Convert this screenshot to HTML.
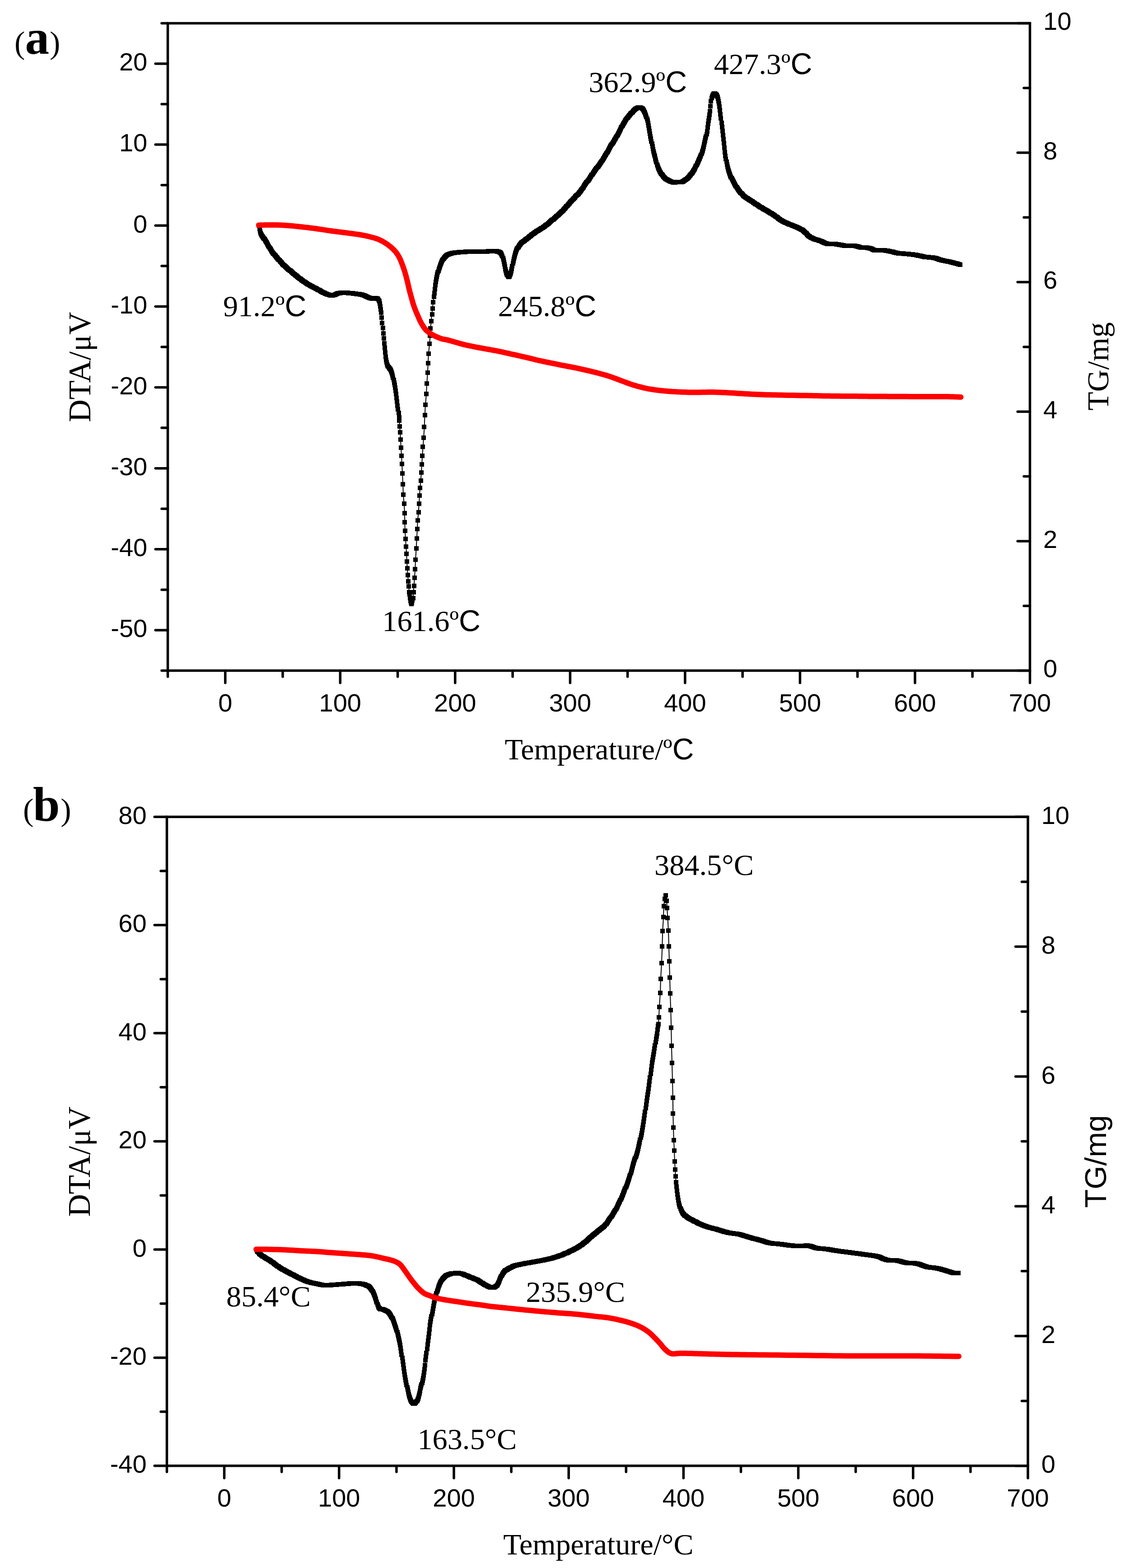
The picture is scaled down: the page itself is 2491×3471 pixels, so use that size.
<!DOCTYPE html>
<html><head><meta charset="utf-8"><title>DTA-TG</title><style>html,body{margin:0;padding:0;background:#fff}svg{display:block}</style></head><body>
<svg xmlns="http://www.w3.org/2000/svg" width="2491" height="3471" viewBox="0 0 2491 3471">
<rect width="2491" height="3471" fill="#fff"/>
<path d="M371.5 1484.5H358M371.5 1394.9H344.2M371.5 1305.4H358M371.5 1215.8H344.2M371.5 1126.2H358M371.5 1036.7H344.2M371.5 947.1H358M371.5 857.5H344.2M371.5 768H358M371.5 678.4H344.2M371.5 588.8H358M371.5 499.2H344.2M371.5 409.7H358M371.5 320.1H344.2M371.5 230.5H358M371.5 141H344.2M371.5 51.4H358M371.5 1484.5V1498M498.8 1484.5V1511.8M626 1484.5V1498M753.3 1484.5V1511.8M880.6 1484.5V1498M1007.8 1484.5V1511.8M1135.1 1484.5V1498M1262.4 1484.5V1511.8M1389.6 1484.5V1498M1516.9 1484.5V1511.8M1644.2 1484.5V1498M1771.4 1484.5V1511.8M1898.7 1484.5V1498M2026 1484.5V1511.8M2153.2 1484.5V1498M2280.5 1484.5V1511.8M2280.5 1484.5H2253.2M2280.5 1341.2H2267M2280.5 1197.9H2253.2M2280.5 1054.6H2267M2280.5 911.3H2253.2M2280.5 768H2267M2280.5 624.6H2253.2M2280.5 481.3H2267M2280.5 338H2253.2M2280.5 194.7H2267M2280.5 51.4H2253.2" stroke="#000" stroke-width="5.5" stroke-linecap="round" fill="none"/>
<path d="M371.5 51.4H2280.5V1484.5H371.5Z" stroke="#000" stroke-width="5.5" fill="none" stroke-linejoin="miter"/>
<text x="326.2" y="1410.2" font-family="'Liberation Sans', Arial, sans-serif" font-size="56" text-anchor="end">-50</text>
<text x="326.2" y="1231.1" font-family="'Liberation Sans', Arial, sans-serif" font-size="56" text-anchor="end">-40</text>
<text x="326.2" y="1052" font-family="'Liberation Sans', Arial, sans-serif" font-size="56" text-anchor="end">-30</text>
<text x="326.2" y="872.8" font-family="'Liberation Sans', Arial, sans-serif" font-size="56" text-anchor="end">-20</text>
<text x="326.2" y="693.7" font-family="'Liberation Sans', Arial, sans-serif" font-size="56" text-anchor="end">-10</text>
<text x="326.2" y="514.5" font-family="'Liberation Sans', Arial, sans-serif" font-size="56" text-anchor="end">0</text>
<text x="326.2" y="335.4" font-family="'Liberation Sans', Arial, sans-serif" font-size="56" text-anchor="end">10</text>
<text x="326.2" y="156.3" font-family="'Liberation Sans', Arial, sans-serif" font-size="56" text-anchor="end">20</text>
<text x="498.8" y="1574.7" font-family="'Liberation Sans', Arial, sans-serif" font-size="56" text-anchor="middle">0</text>
<text x="753.3" y="1574.7" font-family="'Liberation Sans', Arial, sans-serif" font-size="56" text-anchor="middle">100</text>
<text x="1007.8" y="1574.7" font-family="'Liberation Sans', Arial, sans-serif" font-size="56" text-anchor="middle">200</text>
<text x="1262.4" y="1574.7" font-family="'Liberation Sans', Arial, sans-serif" font-size="56" text-anchor="middle">300</text>
<text x="1516.9" y="1574.7" font-family="'Liberation Sans', Arial, sans-serif" font-size="56" text-anchor="middle">400</text>
<text x="1771.4" y="1574.7" font-family="'Liberation Sans', Arial, sans-serif" font-size="56" text-anchor="middle">500</text>
<text x="2026" y="1574.7" font-family="'Liberation Sans', Arial, sans-serif" font-size="56" text-anchor="middle">600</text>
<text x="2280.5" y="1574.7" font-family="'Liberation Sans', Arial, sans-serif" font-size="56" text-anchor="middle">700</text>
<text x="2310" y="1499.3" font-family="'Liberation Sans', Arial, sans-serif" font-size="56">0</text>
<text x="2310" y="1212.7" font-family="'Liberation Sans', Arial, sans-serif" font-size="56">2</text>
<text x="2310" y="926.1" font-family="'Liberation Sans', Arial, sans-serif" font-size="56">4</text>
<text x="2310" y="639.4" font-family="'Liberation Sans', Arial, sans-serif" font-size="56">6</text>
<text x="2310" y="352.8" font-family="'Liberation Sans', Arial, sans-serif" font-size="56">8</text>
<text x="2310" y="66.2" font-family="'Liberation Sans', Arial, sans-serif" font-size="56">10</text>
<path d="M573.5 499.5L573.7 501.5L573.9 503.4L574.2 505.4L574.6 507.3L574.9 509.3L575.4 511.3L575.9 513.3L576.5 515.2L577.3 517.1L578.2 518.8L579.2 520.4L580.2 521.9L581.3 523.4L582.5 525L583.6 526.6L584.8 528.3L585.9 530L587 531.6L588.1 533.3L589.1 535L590.2 536.7L591.2 538.4L592.2 540.2L593.2 541.9L594.3 543.6L595.3 545.4L596.3 547.1L597.3 548.9L598.3 550.6L599.3 552.3L600.4 554.1L601.5 555.7L602.6 557.4L603.8 559L605 560.6L606.2 562.1L607.5 563.7L608.8 565.2L610.1 566.7L611.4 568.2L612.7 569.7L614 571.2L615.3 572.7L616.7 574.2L618 575.7L619.3 577.2L620.7 578.7L622 580.2L623.4 581.6L624.7 583.1L626.1 584.5L627.5 586L629 587.4L630.4 588.8L631.9 590.1L633.3 591.5L634.8 592.8L636.3 594.1L637.8 595.4L639.4 596.7L640.9 597.9L642.4 599.2L644 600.5L645.5 601.8L647 603L648.6 604.3L650.1 605.6L651.7 606.9L653.2 608.2L654.8 609.4L656.3 610.7L657.9 612L659.4 613.2L661 614.5L662.6 615.7L664.2 616.9L665.8 618.1L667.4 619.3L669 620.4L670.6 621.6L672.3 622.7L673.9 623.9L675.6 625L677.3 626.1L678.9 627.2L680.6 628.3L682.3 629.3L684 630.4L685.8 631.4L687.5 632.4L689.2 633.3L691 634.3L692.8 635.2L694.5 636.1L696.3 637L698.1 637.9L699.8 638.8L701.6 639.7L703.4 640.7L705.1 641.6L706.9 642.6L708.6 643.6L710.4 644.6L712.1 645.6L713.9 646.6L715.7 647.5L717.5 648.5L719.3 649.3L721.1 650.1L723 650.8L724.8 651.5L726.7 652.2L728.6 652.8L730.6 653.3L732.5 653.7L734.4 653.9L736.3 653.9L738.3 653.5L740.2 652.8L742.1 652L743.9 651.2L745.8 650.3L747.7 649.6L749.6 649L751.6 648.7L753.5 648.5L755.5 648.4L757.5 648.4L759.5 648.4L761.5 648.4L763.5 648.4L765.5 648.4L767.5 648.4L769.5 648.4L771.5 648.5L773.4 648.6L775.4 648.8L777.4 648.9L779.4 649.2L781.4 649.4L783.4 649.7L785.4 650L787.4 650.3L789.3 650.6L791.3 650.9L793.3 651.1L795.3 651.4L797.2 651.7L799.2 652L801.1 652.4L803 652.9L804.9 653.5L806.8 654.2L808.6 655.1L810.5 656L812.3 656.9L814.2 657.8L816 658.5L817.9 659.2L819.8 659.9L821.7 660.3L823.7 660.6L825.6 660.7L827.6 660.6L829.5 660.5L831.3 660.5L833.1 660.5L834.7 660.6L836.2 660.9L837.4 662.4L838.4 664.3L839.3 666.2L839.9 668.2L840.4 670.1L840.9 672.1L841.3 674.1L841.6 676.1L841.9 678.1L842.3 680L842.6 682L842.9 684L843.2 685.9L843.5 687.9L843.7 689.9L844 691.9L844.2 693.9L844.4 695.9L844.6 697.8L844.8 699.8L845 701.8L845.2 703.8L845.3 705.8L845.5 707.8L845.7 709.8L845.8 711.8L846.1 713.8L846.3 715.8L846.5 717.8L846.8 719.7L847.1 721.7L847.4 723.7L847.6 725.7L847.9 727.6L848.1 729.6L848.3 731.6L848.5 733.6L848.7 735.6L848.8 737.6L849 739.6L849.1 741.6L849.2 743.6L849.3 745.6L849.4 747.6L849.5 749.6L849.7 751.6L849.9 753.6L850.1 755.5L850.3 757.5L850.6 759.5L850.8 761.5L851 763.5L851.3 765.5L851.5 767.5L851.7 769.4L851.9 771.4L852.1 773.4L852.3 775.4L852.5 777.4L852.7 779.4L853 781.4L853.2 783.4L853.4 785.4L853.7 787.3L853.9 789.3L854.2 791.3L854.5 793.3L854.8 795.3L855.1 797.2L855.5 799.2L855.9 801.2L856.4 803.1L856.9 805.1L857.6 807L858.3 808.9L859.2 810.8L860.1 812.5L861.2 814L862.2 815.4L863.4 816.8L864.4 818.3L865.4 819.9L866.3 821.7L867.1 823.6L867.8 825.5L868.4 827.4L869 829.4L869.4 831.3L869.9 833.3L870.3 835.3L870.7 837.2L871.1 839.2L871.5 841.2L871.9 843.1L872.3 845.1L872.7 847L873.1 849L873.5 850.9L873.9 852.9L874.3 854.9L874.6 856.8L875 858.8L875.3 860.8L875.7 862.7L876 864.7L876.3 866.7L876.6 868.7L876.8 870.7L877.1 872.6L877.4 874.6L877.6 876.6L877.9 878.6L878.1 880.6L878.4 882.6L878.6 884.5L878.9 886.5L879.1 888.5L879.4 890.5L879.7 892.5L879.9 894.5L880.2 896.4L880.5 898.4L880.7 900.4L881 902.4L881.3 904.4L881.5 906.4L881.8 908.3L882.1 910.3L882.4 912.3L882.6 914.3L882.9 916.3L883.1 918.2L883.3 920.2L883.5 922.2L883.6 924.2L883.8 926.2L883.9 928.2L884.1 930.2L884.2 932.2L884.3 934.2L884.4 936.2L884.6 938.2L884.7 940.2L884.8 942.2L885 944.2L885.1 946.2L885.3 948.2L885.4 950.2L885.6 952.1L885.7 954.1L885.9 956.1L886 958.1L886.2 960.1L886.3 962.1L886.4 964.1L886.5 966.1L886.6 968.1L886.7 970.1L886.9 972.1L887 974.1L887.1 976.1L887.2 978.1L887.3 980.1L887.5 982.1L887.6 984.1L887.7 986.1L887.8 988.1L887.9 990.1L888.1 992.1L888.2 994.1L888.3 996.1L888.4 998.1L888.5 1000.1L888.6 1002.1L888.7 1004.1L888.9 1006L889 1008L889.1 1010L889.2 1012L889.3 1014L889.4 1016L889.5 1018L889.6 1020L889.7 1022L889.8 1024L889.9 1026L890 1028L890.1 1030L890.2 1032L890.3 1034L890.4 1036L890.5 1038L890.6 1040L890.7 1042L890.8 1044L890.9 1046L891 1048L891.1 1050L891.2 1052L891.3 1054L891.4 1056L891.5 1058L891.6 1060L891.7 1062L891.8 1064L891.9 1066L892 1068L892.1 1070L892.2 1072L892.2 1074L892.3 1076L892.4 1078L892.4 1080L892.5 1082L892.5 1084L892.6 1086L892.7 1088L892.7 1090L892.8 1092L892.9 1094L893.1 1096L893.2 1097.9L893.4 1099.9L893.6 1101.9L893.7 1103.9L893.9 1105.9L894.1 1107.9L894.3 1109.9L894.5 1111.9L894.6 1113.9L894.8 1115.9L894.9 1117.9L895.1 1119.9L895.2 1121.9L895.3 1123.8L895.4 1125.8L895.5 1127.8L895.6 1129.8L895.6 1131.8L895.7 1133.8L895.8 1135.8L895.8 1137.8L895.9 1139.8L896 1141.8L896 1143.8L896.1 1145.8L896.1 1147.8L896.2 1149.8L896.2 1151.8L896.3 1153.8L896.3 1155.8L896.3 1157.8L896.4 1159.8L896.4 1161.8L896.5 1163.8L896.5 1165.8L896.6 1167.8L896.6 1169.8L896.7 1171.8L896.8 1173.8L896.9 1175.8L897 1177.8L897.1 1179.8L897.2 1181.8L897.4 1183.8L897.5 1185.8L897.6 1187.8L897.8 1189.8L897.9 1191.8L898 1193.8L898.1 1195.8L898.3 1197.8L898.4 1199.8L898.5 1201.8L898.6 1203.8L898.8 1205.8L898.9 1207.8L899 1209.8L899.2 1211.8L899.3 1213.7L899.4 1215.7L899.6 1217.7L899.7 1219.7L899.9 1221.7L900 1223.7L900.1 1225.7L900.2 1227.7L900.3 1229.7L900.4 1231.7L900.5 1233.7L900.6 1235.7L900.7 1237.7L900.8 1239.7L900.9 1241.7L901 1243.7L901.1 1245.7L901.2 1247.7L901.3 1249.7L901.5 1251.7L901.6 1253.7L901.7 1255.7L901.9 1257.7L902 1259.7L902.1 1261.7L902.2 1263.7L902.4 1265.6L902.5 1267.6L902.6 1269.6L902.8 1271.6L902.9 1273.6L903.1 1275.6L903.2 1277.6L903.4 1279.6L903.6 1281.6L903.8 1283.6L904 1285.6L904.1 1287.6L904.3 1289.6L904.5 1291.6L904.6 1293.6L904.8 1295.5L904.9 1297.5L905.1 1299.5L905.2 1301.5L905.4 1303.5L905.6 1305.5L905.8 1307.5L905.9 1309.5L906.2 1311.5L906.4 1313.5L906.6 1315.5L906.9 1317.4L907.2 1319.4L907.5 1321.4L907.8 1323.4L908.1 1325.3L908.5 1327.3L908.9 1329.3L909.3 1331.3L909.8 1333.2L910.3 1335.2L910.9 1337.1L911.4 1336.4L912 1334.5L912.5 1332.6L913 1330.6L913.4 1328.7L913.8 1326.7L914.1 1324.7L914.4 1322.7L914.6 1320.7L914.8 1318.8L915 1316.8L915.2 1314.8L915.3 1312.8L915.5 1310.8L915.6 1308.8L915.8 1306.8L916 1304.8L916.1 1302.8L916.3 1300.8L916.4 1298.8L916.6 1296.8L916.8 1294.8L916.9 1292.8L917 1290.8L917.2 1288.8L917.3 1286.8L917.5 1284.9L917.6 1282.9L917.8 1280.9L917.9 1278.9L918 1276.9L918.2 1274.9L918.3 1272.9L918.4 1270.9L918.5 1268.9L918.7 1266.9L918.8 1264.9L918.9 1262.9L919 1260.9L919.1 1258.9L919.3 1256.9L919.4 1254.9L919.5 1252.9L919.6 1250.9L919.7 1248.9L919.8 1246.9L919.9 1244.9L920 1242.9L920.1 1240.9L920.2 1238.9L920.3 1236.9L920.4 1234.9L920.5 1232.9L920.6 1230.9L920.7 1228.9L920.9 1227L921 1225L921.1 1223L921.2 1221L921.3 1219L921.4 1217L921.5 1215L921.6 1213L921.7 1211L921.9 1209L922 1207L922.1 1205L922.2 1203L922.3 1201L922.4 1199L922.5 1197L922.6 1195L922.7 1193L922.8 1191L923 1189L923.1 1187L923.2 1185L923.3 1183L923.4 1181L923.5 1179L923.6 1177L923.7 1175L923.8 1173L923.9 1171L924 1169L924.1 1167L924.2 1165L924.3 1163L924.4 1161L924.5 1159L924.6 1157L924.7 1155.1L924.9 1153.1L925 1151.1L925.2 1149.1L925.4 1147.1L925.5 1145.1L925.7 1143.1L925.9 1141.1L926.1 1139.1L926.3 1137.1L926.5 1135.1L926.6 1133.1L926.8 1131.1L926.9 1129.2L927 1127.2L927.2 1125.2L927.3 1123.2L927.4 1121.2L927.6 1119.2L927.7 1117.2L927.8 1115.2L927.9 1113.2L928.1 1111.2L928.2 1109.2L928.3 1107.2L928.5 1105.2L928.6 1103.2L928.7 1101.2L928.8 1099.2L929 1097.2L929.1 1095.2L929.2 1093.2L929.3 1091.2L929.4 1089.2L929.6 1087.2L929.7 1085.2L929.8 1083.2L930 1081.2L930.1 1079.3L930.3 1077.3L930.5 1075.3L930.7 1073.3L930.9 1071.3L931.1 1069.3L931.2 1067.3L931.4 1065.3L931.6 1063.3L931.8 1061.3L931.9 1059.3L932.1 1057.3L932.2 1055.4L932.4 1053.4L932.5 1051.4L932.7 1049.4L932.8 1047.4L932.9 1045.4L933.1 1043.4L933.2 1041.4L933.3 1039.4L933.4 1037.4L933.5 1035.4L933.7 1033.4L933.8 1031.4L933.9 1029.4L934 1027.4L934.2 1025.4L934.3 1023.4L934.4 1021.4L934.5 1019.4L934.7 1017.4L934.8 1015.4L934.9 1013.4L935.1 1011.4L935.2 1009.4L935.3 1007.5L935.5 1005.5L935.6 1003.5L935.7 1001.5L935.9 999.5L936 997.5L936.1 995.5L936.3 993.5L936.4 991.5L936.6 989.5L936.7 987.5L936.9 985.5L937 983.5L937.2 981.5L937.3 979.5L937.5 977.5L937.6 975.5L937.8 973.5L937.9 971.5L938.1 969.6L938.2 967.6L938.3 965.6L938.5 963.6L938.6 961.6L938.7 959.6L938.8 957.6L938.9 955.6L939.1 953.6L939.2 951.6L939.3 949.6L939.4 947.6L939.5 945.6L939.6 943.6L939.7 941.6L939.8 939.6L939.9 937.6L940 935.6L940 933.6L940.1 931.6L940.2 929.6L940.3 927.6L940.4 925.6L940.5 923.6L940.6 921.6L940.7 919.6L940.8 917.6L940.9 915.6L941 913.6L941.1 911.6L941.2 909.6L941.3 907.6L941.4 905.6L941.5 903.6L941.7 901.6L941.8 899.7L941.9 897.7L942.1 895.7L942.2 893.7L942.4 891.7L942.5 889.7L942.7 887.7L942.9 885.7L943 883.7L943.2 881.7L943.4 879.7L943.5 877.7L943.7 875.7L943.8 873.7L944 871.7L944.1 869.7L944.2 867.7L944.3 865.8L944.4 863.8L944.5 861.8L944.6 859.8L944.7 857.8L944.8 855.8L944.9 853.8L945 851.8L945.1 849.8L945.2 847.8L945.3 845.8L945.5 843.8L945.6 841.8L945.8 839.8L945.9 837.8L946.1 835.8L946.2 833.8L946.4 831.8L946.5 829.8L946.7 827.8L946.8 825.8L946.9 823.8L947 821.8L947.1 819.8L947.2 817.8L947.3 815.8L947.4 813.8L947.5 811.9L947.6 809.9L947.7 807.9L947.7 805.9L947.8 803.9L947.9 801.9L948 799.9L948.1 797.9L948.2 795.9L948.3 793.9L948.4 791.9L948.5 789.9L948.6 787.9L948.7 785.9L948.9 783.9L949 781.9L949.2 779.9L949.4 777.9L949.6 775.9L949.8 773.9L950 771.9L950.2 770L950.4 768L950.6 766L950.8 764L951 762L951.2 760L951.3 758L951.5 756L951.7 754L951.8 752L952 750L952.1 748L952.2 746L952.3 744L952.5 742.1L952.6 740.1L952.7 738.1L952.8 736.1L952.9 734.1L953 732.1L953.1 730.1L953.2 728.1L953.4 726.1L953.5 724.1L953.7 722.1L953.9 720.1L954.1 718.1L954.3 716.1L954.5 714.1L954.7 712.1L954.8 710.2L955 708.2L955.2 706.2L955.3 704.2L955.5 702.2L955.6 700.2L955.8 698.2L956 696.2L956.2 694.2L956.5 692.2L956.7 690.2L957 688.3L957.2 686.3L957.5 684.3L957.7 682.3L958 680.3L958.2 678.3L958.4 676.4L958.6 674.4L958.8 672.4L959 670.4L959.2 668.4L959.4 666.4L959.6 664.4L959.9 662.4L960.2 660.5L960.4 658.5L960.7 656.5L961 654.5L961.3 652.5L961.5 650.6L961.8 648.6L962.1 646.6L962.3 644.6L962.5 642.6L962.8 640.6L963 638.6L963.3 636.7L963.5 634.7L963.8 632.7L964.1 630.7L964.4 628.7L964.7 626.7L965 624.8L965.3 622.8L965.7 620.8L966 618.9L966.4 616.9L966.8 614.9L967.2 613L967.6 611L968.1 609.1L968.5 607.1L969 605.2L969.5 603.2L970 601.3L970.6 599.4L971.2 597.5L971.8 595.6L972.4 593.7L973.1 591.8L973.7 589.9L974.5 588L975.2 586.2L975.9 584.3L976.7 582.5L977.5 580.7L978.4 578.8L979.3 577L980.3 575.2L981.3 573.5L982.5 571.8L983.7 570.2L985 568.7L986.5 567.3L988 566.1L989.6 565L991.2 563.9L993 563L994.8 562.3L996.6 561.6L998.5 561.1L1000.4 560.6L1002.4 560.2L1004.3 559.9L1006.3 559.5L1008.2 559.3L1010.2 559L1012.2 558.8L1014.2 558.6L1016.2 558.4L1018.2 558.2L1020.2 558.1L1022.2 557.9L1024.2 557.8L1026.2 557.7L1028.2 557.6L1030.1 557.5L1032.1 557.5L1034.1 557.4L1036.1 557.4L1038.1 557.4L1040.1 557.4L1042.1 557.4L1044.1 557.4L1046.1 557.4L1048.1 557.4L1050.1 557.4L1052.1 557.4L1054.1 557.4L1056.1 557.4L1058.1 557.4L1060.1 557.4L1062.1 557.4L1064.1 557.4L1066.1 557.4L1068.1 557.4L1070.1 557.3L1072.1 557.2L1074.1 557.1L1076.1 557L1078.1 556.8L1080.1 556.5L1082.1 556.3L1084.1 556.1L1086.1 555.8L1088.1 555.7L1090.1 555.6L1092.1 555.6L1094 555.7L1096 555.9L1098 556.1L1099.9 556.4L1101.8 556.8L1103.6 557.3L1105.3 557.8L1106.9 558.5L1108.3 559.6L1109.5 561.2L1110.6 563L1111.5 564.9L1112.3 566.8L1113 568.7L1113.6 570.7L1114.1 572.6L1114.6 574.6L1115 576.5L1115.5 578.4L1115.9 580.4L1116.3 582.4L1116.7 584.3L1117.1 586.3L1117.5 588.3L1117.9 590.2L1118.3 592.2L1118.7 594.2L1119.2 596.1L1119.7 598L1120.2 600L1120.7 601.9L1121.3 603.9L1122 605.8L1122.8 607.6L1123.7 609.5L1124.6 611.2L1125.6 612.9L1126.6 613.4L1127.6 611.9L1128.6 610.2L1129.5 608.3L1130.2 606.5L1130.9 604.6L1131.5 602.6L1132 600.7L1132.5 598.7L1132.9 596.7L1133.4 594.8L1133.7 592.8L1134.1 590.9L1134.5 588.9L1134.8 586.9L1135.2 584.9L1135.6 583L1136 581L1136.4 579L1136.8 577.1L1137.3 575.1L1137.7 573.2L1138.2 571.3L1138.7 569.4L1139.2 567.4L1139.8 565.5L1140.3 563.6L1140.9 561.6L1141.5 559.7L1142.1 557.7L1142.8 555.9L1143.6 554L1144.4 552.2L1145.3 550.5L1146.3 548.8L1147.3 547.1L1148.4 545.4L1149.6 543.8L1150.8 542.2L1152.1 540.6L1153.4 539.1L1154.8 537.7L1156.3 536.3L1157.8 535.1L1159.3 533.9L1160.9 532.7L1162.5 531.6L1164.1 530.5L1165.7 529.3L1167.2 528.1L1168.8 526.8L1170.4 525.6L1171.9 524.3L1173.5 523L1175.1 521.7L1176.7 520.4L1178.2 519.2L1179.8 518L1181.5 516.9L1183.1 515.7L1184.7 514.6L1186.4 513.5L1188.1 512.4L1189.7 511.3L1191.4 510.2L1193.1 509.1L1194.8 508.1L1196.5 507.1L1198.2 506.1L1199.9 505L1201.5 504L1203.2 502.9L1204.8 501.7L1206.5 500.5L1208.1 499.3L1209.7 498.1L1211.2 496.9L1212.8 495.6L1214.3 494.3L1215.9 493.1L1217.4 491.8L1218.9 490.5L1220.5 489.2L1222 487.9L1223.5 486.5L1225 485.2L1226.5 483.9L1228 482.6L1229.5 481.3L1231 479.9L1232.5 478.6L1234 477.3L1235.5 476L1237 474.7L1238.5 473.3L1240 472L1241.4 470.6L1242.9 469.2L1244.3 467.9L1245.7 466.5L1247.1 465L1248.5 463.6L1249.9 462.2L1251.2 460.7L1252.6 459.2L1253.9 457.7L1255.2 456.1L1256.5 454.6L1257.9 453.1L1259.2 451.6L1260.5 450.1L1261.8 448.6L1263.2 447.1L1264.5 445.6L1265.9 444.2L1267.2 442.7L1268.6 441.2L1270 439.8L1271.3 438.3L1272.7 436.9L1274.1 435.4L1275.5 434L1276.9 432.6L1278.3 431.2L1279.7 429.8L1281 428.4L1282.4 426.9L1283.7 425.4L1284.9 423.9L1286.2 422.3L1287.3 420.7L1288.5 419L1289.6 417.3L1290.7 415.6L1291.7 413.9L1292.8 412.2L1293.9 410.4L1295 408.7L1296.1 407.1L1297.3 405.5L1298.5 403.9L1299.7 402.4L1300.9 400.9L1302.2 399.4L1303.4 397.8L1304.5 396.2L1305.7 394.5L1306.8 392.8L1307.9 391.1L1309 389.4L1310.1 387.7L1311.2 386.1L1312.3 384.4L1313.4 382.8L1314.6 381.1L1315.7 379.5L1316.9 377.8L1318 376.2L1319.2 374.6L1320.4 373L1321.7 371.4L1322.9 369.9L1324.1 368.3L1325.4 366.8L1326.6 365.2L1327.8 363.7L1328.9 362.1L1330.1 360.4L1331.2 358.8L1332.3 357L1333.4 355.3L1334.4 353.6L1335.5 351.9L1336.5 350.2L1337.6 348.5L1338.7 346.8L1339.7 345.1L1340.8 343.5L1341.9 341.8L1342.9 340.1L1343.9 338.4L1344.9 336.7L1345.9 334.9L1346.8 333.1L1347.8 331.3L1348.7 329.5L1349.6 327.7L1350.6 325.9L1351.6 324.2L1352.6 322.5L1353.7 320.8L1354.7 319.2L1355.8 317.6L1356.9 315.9L1358 314.3L1359.1 312.6L1360.2 310.9L1361.2 309.2L1362.3 307.5L1363.3 305.7L1364.3 304L1365.3 302.3L1366.3 300.5L1367.2 298.8L1368.2 297L1369.1 295.3L1370.1 293.5L1371 291.7L1371.9 289.9L1372.9 288.2L1373.8 286.4L1374.7 284.6L1375.7 282.8L1376.6 281.1L1377.6 279.3L1378.5 277.6L1379.5 275.8L1380.5 274.1L1381.5 272.4L1382.5 270.6L1383.6 268.9L1384.6 267.2L1385.7 265.5L1386.8 263.8L1388 262.2L1389.2 260.6L1390.4 259L1391.7 257.5L1393 256L1394.3 254.5L1395.6 253.1L1397 251.6L1398.3 250.1L1399.7 248.6L1401.1 247.1L1402.5 245.6L1404 244.2L1405.5 242.9L1407 241.6L1408.7 240.4L1410.4 239.3L1412.1 238.5L1413.9 237.8L1415.6 237.6L1417.4 237.9L1419.1 238.4L1420.7 239.3L1422.2 240.4L1423.5 241.9L1424.7 243.6L1425.8 245.4L1426.7 247.3L1427.6 249.1L1428.4 251L1429.2 252.8L1429.9 254.7L1430.5 256.6L1431.2 258.5L1431.8 260.4L1432.3 262.3L1432.9 264.2L1433.4 266.2L1433.9 268.1L1434.3 270.1L1434.7 272L1435.1 274L1435.5 276L1435.9 277.9L1436.3 279.9L1436.6 281.9L1437 283.8L1437.3 285.8L1437.7 287.8L1438.1 289.7L1438.4 291.7L1438.8 293.7L1439.1 295.6L1439.5 297.6L1439.9 299.6L1440.2 301.5L1440.6 303.5L1441 305.5L1441.4 307.4L1441.8 309.4L1442.2 311.3L1442.5 313.3L1442.9 315.3L1443.3 317.2L1443.7 319.2L1444.1 321.2L1444.4 323.1L1444.8 325.1L1445.2 327.1L1445.6 329L1446 331L1446.5 332.9L1447 334.9L1447.4 336.8L1448 338.7L1448.5 340.7L1449.1 342.6L1449.6 344.5L1450.1 346.4L1450.7 348.3L1451.2 350.2L1451.7 352.2L1452.1 354.1L1452.6 356.1L1453.1 358L1453.6 360L1454.1 361.9L1454.7 363.9L1455.3 365.8L1455.9 367.7L1456.6 369.5L1457.3 371.4L1458.1 373.2L1458.9 375.1L1459.8 376.9L1460.7 378.7L1461.7 380.4L1462.7 382.1L1463.7 383.8L1464.9 385.5L1466 387.1L1467.3 388.7L1468.6 390.2L1469.9 391.7L1471.3 393.2L1472.8 394.5L1474.4 395.7L1476 396.9L1477.6 397.9L1479.3 398.9L1481.1 399.9L1482.8 400.8L1484.7 401.7L1486.5 402.4L1488.4 403.1L1490.3 403.5L1492.3 403.7L1494.2 403.6L1496.2 403.4L1498.2 403.3L1500.2 403.2L1502.1 403L1504.1 402.8L1506 402.8L1508 402.8L1509.9 402.5L1511.7 401.7L1513.5 400.8L1515.2 399.8L1516.9 398.6L1518.5 397.5L1520.1 396.2L1521.6 395L1523.1 393.6L1524.5 392.2L1525.9 390.8L1527.3 389.3L1528.6 387.7L1529.8 386.2L1531.1 384.6L1532.2 383L1533.4 381.3L1534.5 379.7L1535.6 378L1536.6 376.3L1537.7 374.6L1538.6 372.9L1539.6 371.1L1540.5 369.3L1541.3 367.5L1542.2 365.6L1543 363.8L1543.8 361.9L1544.7 360.1L1545.5 358.3L1546.3 356.5L1547.2 354.7L1548 352.9L1548.9 351.1L1549.7 349.3L1550.5 347.5L1551.3 345.7L1552.1 343.8L1552.8 342L1553.5 340.1L1554.1 338.2L1554.7 336.3L1555.3 334.3L1555.9 332.4L1556.4 330.5L1556.9 328.6L1557.4 326.6L1557.9 324.7L1558.4 322.7L1558.9 320.8L1559.3 318.8L1559.8 316.9L1560.3 314.9L1560.7 313L1561.2 311L1561.7 309.1L1562.2 307.2L1562.7 305.2L1563.1 303.3L1563.6 301.4L1564.1 299.4L1564.5 297.5L1564.9 295.5L1565.2 293.6L1565.5 291.6L1565.8 289.6L1566.1 287.6L1566.3 285.6L1566.6 283.6L1566.8 281.6L1567.1 279.7L1567.4 277.7L1567.6 275.7L1567.9 273.7L1568.2 271.7L1568.6 269.8L1568.9 267.8L1569.2 265.8L1569.5 263.9L1569.9 261.9L1570.2 259.9L1570.5 257.9L1570.8 256L1571.1 254L1571.4 252L1571.7 250L1572 248.1L1572.3 246.1L1572.5 244.1L1572.7 242.1L1572.9 240.1L1573.1 238.1L1573.2 236.1L1573.4 234.1L1573.6 232.1L1573.8 230.1L1574 228.1L1574.2 226.2L1574.4 224.2L1574.7 222.2L1575 220.2L1575.4 218.2L1575.9 216.2L1576.5 214.3L1577.2 212.3L1578.2 210.5L1579.3 209L1580.5 207.7L1581.9 206.9L1583.2 206.9L1584.5 207.9L1585.8 209.3L1586.9 211L1587.8 212.8L1588.6 214.7L1589.3 216.7L1589.8 218.6L1590.3 220.6L1590.8 222.6L1591.2 224.5L1591.5 226.5L1591.9 228.5L1592.2 230.4L1592.6 232.4L1592.9 234.4L1593.2 236.4L1593.5 238.3L1593.7 240.3L1594 242.3L1594.3 244.3L1594.5 246.3L1594.8 248.2L1595 250.2L1595.3 252.2L1595.5 254.2L1595.8 256.2L1596 258.2L1596.2 260.2L1596.5 262.1L1596.7 264.1L1596.9 266.1L1597.2 268.1L1597.4 270.1L1597.6 272.1L1597.9 274.1L1598.1 276.1L1598.3 278L1598.6 280L1598.8 282L1599 284L1599.3 286L1599.5 288L1599.7 290L1600 291.9L1600.2 293.9L1600.4 295.9L1600.7 297.9L1600.9 299.9L1601.2 301.9L1601.4 303.9L1601.6 305.8L1601.9 307.8L1602.1 309.8L1602.4 311.8L1602.6 313.8L1602.9 315.8L1603.1 317.8L1603.3 319.7L1603.6 321.7L1603.8 323.7L1604 325.7L1604.2 327.7L1604.5 329.7L1604.7 331.7L1604.9 333.7L1605.1 335.6L1605.4 337.6L1605.6 339.6L1605.9 341.6L1606.1 343.6L1606.4 345.6L1606.7 347.5L1607 349.5L1607.3 351.5L1607.7 353.5L1608 355.4L1608.4 357.4L1608.8 359.4L1609.2 361.3L1609.6 363.3L1610 365.2L1610.4 367.2L1610.9 369.1L1611.4 371.1L1611.9 373L1612.5 374.9L1613 376.9L1613.6 378.8L1614.2 380.7L1614.9 382.6L1615.6 384.4L1616.3 386.3L1617 388.2L1617.8 390L1618.6 391.9L1619.4 393.7L1620.2 395.5L1621.1 397.3L1622.1 399L1623 400.8L1624 402.5L1625 404.2L1626 406L1627 407.7L1628 409.4L1629.1 411.1L1630.1 412.8L1631.2 414.5L1632.3 416.2L1633.4 417.9L1634.6 419.5L1635.8 421.1L1637 422.7L1638.2 424.3L1639.5 425.8L1640.8 427.3L1642.2 428.8L1643.6 430.3L1645 431.7L1646.5 433L1648 434.4L1649.5 435.6L1651.1 436.8L1652.7 437.9L1654.3 439L1656 440.1L1657.7 441.2L1659.3 442.2L1661 443.3L1662.7 444.3L1664.4 445.4L1666.1 446.6L1667.7 447.7L1669.4 448.8L1671.1 449.9L1672.7 451L1674.4 452.1L1676.1 453.2L1677.7 454.3L1679.4 455.4L1681.1 456.5L1682.8 457.5L1684.5 458.6L1686.2 459.6L1687.9 460.7L1689.6 461.7L1691.4 462.7L1693.1 463.7L1694.8 464.7L1696.5 465.8L1698.2 466.8L1700 467.8L1701.7 468.8L1703.4 469.8L1705.1 470.8L1706.8 471.8L1708.6 472.8L1710.2 473.9L1711.9 474.9L1713.6 476L1715.2 477.1L1716.9 478.3L1718.5 479.5L1720.1 480.7L1721.7 482L1723.3 483.2L1724.9 484.4L1726.6 485.6L1728.2 486.8L1729.9 487.9L1731.6 488.9L1733.4 489.9L1735.1 490.8L1736.9 491.6L1738.7 492.5L1740.5 493.3L1742.3 494L1744.2 494.8L1746 495.6L1747.9 496.4L1749.7 497.1L1751.6 497.9L1753.4 498.6L1755.3 499.3L1757.1 500L1759 500.8L1760.8 501.5L1762.7 502.3L1764.5 503.2L1766.3 504L1768.1 504.8L1769.9 505.7L1771.7 506.6L1773.4 507.5L1775.1 508.4L1776.8 509.4L1778.4 510.5L1780 511.6L1781.5 513L1783 514.4L1784.4 515.9L1785.8 517.5L1787.3 519L1788.7 520.5L1790.2 521.9L1791.8 523.1L1793.4 524.2L1795 525.2L1796.7 526.2L1798.5 527.1L1800.3 528L1802.1 528.8L1804 529.5L1805.8 530.1L1807.7 530.6L1809.6 531.1L1811.5 531.6L1813.4 532.2L1815.2 532.9L1817.1 533.7L1819 534.5L1820.8 535.4L1822.6 536.3L1824.5 537.1L1826.4 537.9L1828.3 538.6L1830.2 539.2L1832.1 539.6L1834 539.9L1836 540L1838 540.1L1840 540.2L1842 540.2L1844 540.2L1846 540.2L1847.9 540.3L1849.9 540.4L1851.9 540.6L1853.9 540.8L1855.9 541.2L1857.9 541.5L1859.8 541.9L1861.8 542.3L1863.8 542.7L1865.7 543L1867.7 543.3L1869.7 543.6L1871.7 543.7L1873.7 543.9L1875.7 543.9L1877.7 543.9L1879.7 544L1881.7 543.9L1883.7 544L1885.7 544L1887.7 544L1889.6 544.1L1891.6 544.2L1893.6 544.4L1895.6 544.7L1897.5 545.2L1899.4 545.8L1901.4 546.4L1903.3 547.1L1905.3 547.6L1907.2 548L1909.2 548.2L1911.2 548.3L1913.2 548.4L1915.1 548.4L1917.1 548.4L1919.1 548.4L1921.1 548.5L1923 548.8L1925 549.1L1926.9 549.7L1928.7 550.4L1930.6 551.3L1932.5 552.3L1934.4 553.1L1936.3 553.8L1938.2 554.2L1940.1 554.4L1942.1 554.5L1944.1 554.4L1946.1 554.3L1948.1 554.2L1950 554.1L1952 554L1954 554L1956 554.1L1958 554.3L1960 554.6L1962 554.8L1964 555.1L1965.9 555.5L1967.9 555.8L1969.9 556.2L1971.8 556.6L1973.8 557L1975.7 557.4L1977.7 557.9L1979.6 558.5L1981.6 559L1983.5 559.5L1985.5 560L1987.4 560.3L1989.4 560.6L1991.4 560.8L1993.4 560.9L1995.4 561L1997.3 561.2L1999.3 561.3L2001.3 561.5L2003.3 561.7L2005.3 561.9L2007.3 562L2009.3 562.2L2011.3 562.4L2013.3 562.6L2015.3 562.8L2017.3 563L2019.2 563.2L2021.2 563.4L2023.2 563.7L2025.2 564L2027.2 564.3L2029.1 564.7L2031.1 565.1L2033 565.5L2035 565.9L2037 566.4L2038.9 566.8L2040.9 567.2L2042.8 567.7L2044.8 568L2046.8 568.4L2048.7 568.7L2050.7 569L2052.7 569.2L2054.7 569.4L2056.7 569.5L2058.7 569.6L2060.7 569.7L2062.6 569.9L2064.6 570.1L2066.6 570.4L2068.5 570.8L2070.5 571.3L2072.4 571.8L2074.3 572.5L2076.2 573.1L2078.2 573.7L2080.1 574.4L2082 575L2083.9 575.6L2085.8 576.1L2087.8 576.6L2089.7 577L2091.7 577.4L2093.6 577.8L2095.6 578.2L2097.5 578.5L2099.5 578.9L2101.4 579.3L2103.4 579.7L2105.3 580.1L2107.3 580.6L2109.2 581.1L2111.2 581.6L2113.1 582.2L2115 582.7L2116.9 583.2L2118.8 583.7L2120.6 584.3L2122.2 584.8L2123.7 585.2L2125 585.6" stroke="#000" stroke-width="2" fill="none" stroke-linejoin="round"/>
<path d="M568 494h10v10h-10zM570 502h10v10h-10zM571 507h10v10h-10zM572 511h10v10h-10zM573 513h10v10h-10zM574 515h10v10h-10zM575 517h10v10h-10zM576 518h10v10h-10zM577 520h10v10h-10zM578 521h10v10h-10zM579 523h10v10h-10zM581 524h10v10h-10zM582 526h10v10h-10zM583 528h10v10h-10zM584 530h10v10h-10zM585 531h10v10h-10zM586 533h10v10h-10zM587 535h10v10h-10zM588 537h10v10h-10zM589 539h10v10h-10zM590 541h10v10h-10zM592 543h10v10h-10zM593 545h10v10h-10zM594 546h10v10h-10zM595 548h10v10h-10zM596 550h10v10h-10zM597 552h10v10h-10zM598 553h10v10h-10zM599 555h10v10h-10zM600 556h10v10h-10zM601 557h10v10h-10zM603 559h10v10h-10zM604 560h10v10h-10zM605 561h10v10h-10zM606 563h10v10h-10zM607 564h10v10h-10zM608 565h10v10h-10zM609 566h10v10h-10zM610 568h10v10h-10zM611 569h10v10h-10zM612 570h10v10h-10zM614 571h10v10h-10zM615 573h10v10h-10zM616 574h10v10h-10zM617 575h10v10h-10zM618 576h10v10h-10zM619 577h10v10h-10zM620 579h10v10h-10zM621 580h10v10h-10zM622 581h10v10h-10zM623 582h10v10h-10zM625 583h10v10h-10zM626 584h10v10h-10zM627 585h10v10h-10zM628 586h10v10h-10zM629 587h10v10h-10zM630 588h10v10h-10zM631 589h10v10h-10zM632 590h10v10h-10zM633 591h10v10h-10zM634 592h10v10h-10zM636 593h10v10h-10zM637 594h10v10h-10zM638 594h10v10h-10zM639 595h10v10h-10zM640 596h10v10h-10zM641 597h10v10h-10zM642 598h10v10h-10zM643 599h10v10h-10zM644 600h10v10h-10zM645 601h10v10h-10zM647 602h10v10h-10zM648 603h10v10h-10zM649 604h10v10h-10zM650 605h10v10h-10zM651 605h10v10h-10zM652 606h10v10h-10zM653 607h10v10h-10zM654 608h10v10h-10zM655 609h10v10h-10zM656 610h10v10h-10zM658 611h10v10h-10zM659 612h10v10h-10zM660 612h10v10h-10zM661 613h10v10h-10zM662 614h10v10h-10zM663 615h10v10h-10zM664 616h10v10h-10zM665 616h10v10h-10zM666 617h10v10h-10zM667 618h10v10h-10zM669 619h10v10h-10zM670 619h10v10h-10zM671 620h10v10h-10zM672 621h10v10h-10zM673 622h10v10h-10zM674 622h10v10h-10zM675 623h10v10h-10zM676 624h10v10h-10zM677 624h10v10h-10zM678 625h10v10h-10zM680 626h10v10h-10zM681 626h10v10h-10zM682 627h10v10h-10zM683 628h10v10h-10zM684 628h10v10h-10zM685 629h10v10h-10zM686 629h10v10h-10zM687 630h10v10h-10zM688 630h10v10h-10zM689 631h10v10h-10zM691 632h10v10h-10zM692 632h10v10h-10zM693 633h10v10h-10zM694 633h10v10h-10zM695 634h10v10h-10zM696 634h10v10h-10zM697 635h10v10h-10zM698 636h10v10h-10zM699 636h10v10h-10zM700 637h10v10h-10zM702 637h10v10h-10zM703 638h10v10h-10zM704 639h10v10h-10zM705 639h10v10h-10zM706 640h10v10h-10zM707 641h10v10h-10zM708 641h10v10h-10zM709 642h10v10h-10zM710 642h10v10h-10zM711 643h10v10h-10zM713 643h10v10h-10zM714 644h10v10h-10zM715 645h10v10h-10zM716 645h10v10h-10zM717 645h10v10h-10zM718 646h10v10h-10zM719 646h10v10h-10zM720 647h10v10h-10zM721 647h10v10h-10zM722 647h10v10h-10zM724 648h10v10h-10zM725 648h10v10h-10zM726 648h10v10h-10zM727 649h10v10h-10zM728 649h10v10h-10zM729 649h10v10h-10zM730 649h10v10h-10zM731 649h10v10h-10zM732 649h10v10h-10zM733 648h10v10h-10zM735 648h10v10h-10zM736 648h10v10h-10zM737 647h10v10h-10zM738 647h10v10h-10zM739 646h10v10h-10zM740 646h10v10h-10zM741 645h10v10h-10zM742 645h10v10h-10zM743 644h10v10h-10zM744 644h10v10h-10zM746 644h10v10h-10zM747 644h10v10h-10zM748 644h10v10h-10zM749 643h10v10h-10zM750 643h10v10h-10zM751 643h10v10h-10zM752 643h10v10h-10zM753 643h10v10h-10zM754 643h10v10h-10zM755 643h10v10h-10zM757 643h10v10h-10zM758 643h10v10h-10zM759 643h10v10h-10zM760 643h10v10h-10zM761 643h10v10h-10zM762 643h10v10h-10zM763 643h10v10h-10zM764 643h10v10h-10zM765 643h10v10h-10zM766 644h10v10h-10zM768 644h10v10h-10zM769 644h10v10h-10zM770 644h10v10h-10zM771 644h10v10h-10zM772 644h10v10h-10zM773 644h10v10h-10zM774 644h10v10h-10zM775 644h10v10h-10zM776 644h10v10h-10zM777 645h10v10h-10zM779 645h10v10h-10zM780 645h10v10h-10zM781 645h10v10h-10zM782 645h10v10h-10zM783 645h10v10h-10zM784 646h10v10h-10zM785 646h10v10h-10zM786 646h10v10h-10zM787 646h10v10h-10zM788 646h10v10h-10zM790 646h10v10h-10zM791 646h10v10h-10zM792 647h10v10h-10zM793 647h10v10h-10zM794 647h10v10h-10zM795 647h10v10h-10zM796 647h10v10h-10zM797 648h10v10h-10zM798 648h10v10h-10zM799 648h10v10h-10zM801 649h10v10h-10zM802 649h10v10h-10zM803 650h10v10h-10zM804 650h10v10h-10zM805 651h10v10h-10zM806 651h10v10h-10zM807 652h10v10h-10zM808 652h10v10h-10zM809 653h10v10h-10zM810 653h10v10h-10zM812 654h10v10h-10zM813 654h10v10h-10zM814 655h10v10h-10zM815 655h10v10h-10zM816 655h10v10h-10zM817 655h10v10h-10zM818 656h10v10h-10zM819 656h10v10h-10zM820 656h10v10h-10zM821 656h10v10h-10zM823 656h10v10h-10zM824 656h10v10h-10zM825 656h10v10h-10zM826 655h10v10h-10zM827 655h10v10h-10zM828 655h10v10h-10zM829 656h10v10h-10zM830 656h10v10h-10zM831 656h10v10h-10zM832 657h10v10h-10zM834 660h10v10h-10zM835 662h10v10h-10zM836 667h10v10h-10zM837 673h10v10h-10zM838 680h10v10h-10zM839 687h10v10h-10zM846 755h10v10h-10zM847 765h10v10h-10zM848 775h10v10h-10zM849 785h10v10h-10zM850 792h10v10h-10zM851 797h10v10h-10zM852 801h10v10h-10zM853 804h10v10h-10zM854 806h10v10h-10zM856 808h10v10h-10zM857 810h10v10h-10zM858 811h10v10h-10zM859 812h10v10h-10zM860 814h10v10h-10zM861 816h10v10h-10zM862 819h10v10h-10zM863 822h10v10h-10zM864 826h10v10h-10zM865 831h10v10h-10zM867 836h10v10h-10zM868 842h10v10h-10zM869 847h10v10h-10zM870 853h10v10h-10zM871 860h10v10h-10zM872 867h10v10h-10zM873 876h10v10h-10zM874 884h10v10h-10zM875 893h10v10h-10zM876 901h10v10h-10zM878 909h10v10h-10zM879 919h10v10h-10zM902 1311h10v10h-10zM903 1319h10v10h-10zM904 1325h10v10h-10zM905 1329h10v10h-10zM906 1332h10v10h-10zM907 1329h10v10h-10zM908 1324h10v10h-10zM956 652h10v10h-10zM957 644h10v10h-10zM958 635h10v10h-10zM959 626h10v10h-10zM960 619h10v10h-10zM961 613h10v10h-10zM962 608h10v10h-10zM963 603h10v10h-10zM964 598h10v10h-10zM966 595h10v10h-10zM967 591h10v10h-10zM968 588h10v10h-10zM969 585h10v10h-10zM970 582h10v10h-10zM971 579h10v10h-10zM972 577h10v10h-10zM973 574h10v10h-10zM974 572h10v10h-10zM975 570h10v10h-10zM977 568h10v10h-10zM978 567h10v10h-10zM979 565h10v10h-10zM980 564h10v10h-10zM981 563h10v10h-10zM982 562h10v10h-10zM983 561h10v10h-10zM984 560h10v10h-10zM985 559h10v10h-10zM986 559h10v10h-10zM988 558h10v10h-10zM989 558h10v10h-10zM990 557h10v10h-10zM991 557h10v10h-10zM992 557h10v10h-10zM993 556h10v10h-10zM994 556h10v10h-10zM995 556h10v10h-10zM996 555h10v10h-10zM997 555h10v10h-10zM999 555h10v10h-10zM1000 555h10v10h-10zM1001 555h10v10h-10zM1002 554h10v10h-10zM1003 554h10v10h-10zM1004 554h10v10h-10zM1005 554h10v10h-10zM1006 554h10v10h-10zM1007 554h10v10h-10zM1008 554h10v10h-10zM1010 554h10v10h-10zM1011 553h10v10h-10zM1012 553h10v10h-10zM1013 553h10v10h-10zM1014 553h10v10h-10zM1015 553h10v10h-10zM1016 553h10v10h-10zM1017 553h10v10h-10zM1018 553h10v10h-10zM1019 553h10v10h-10zM1021 553h10v10h-10zM1022 553h10v10h-10zM1023 553h10v10h-10zM1024 553h10v10h-10zM1025 553h10v10h-10zM1026 552h10v10h-10zM1027 552h10v10h-10zM1028 552h10v10h-10zM1029 552h10v10h-10zM1030 552h10v10h-10zM1032 552h10v10h-10zM1033 552h10v10h-10zM1034 552h10v10h-10zM1035 552h10v10h-10zM1036 552h10v10h-10zM1037 552h10v10h-10zM1038 552h10v10h-10zM1039 552h10v10h-10zM1040 552h10v10h-10zM1041 552h10v10h-10zM1043 552h10v10h-10zM1044 552h10v10h-10zM1045 552h10v10h-10zM1046 552h10v10h-10zM1047 552h10v10h-10zM1048 552h10v10h-10zM1049 552h10v10h-10zM1050 552h10v10h-10zM1051 552h10v10h-10zM1052 552h10v10h-10zM1054 552h10v10h-10zM1055 552h10v10h-10zM1056 552h10v10h-10zM1057 552h10v10h-10zM1058 552h10v10h-10zM1059 552h10v10h-10zM1060 552h10v10h-10zM1061 552h10v10h-10zM1062 552h10v10h-10zM1063 552h10v10h-10zM1065 552h10v10h-10zM1066 552h10v10h-10zM1067 552h10v10h-10zM1068 552h10v10h-10zM1069 552h10v10h-10zM1070 552h10v10h-10zM1071 552h10v10h-10zM1072 552h10v10h-10zM1073 552h10v10h-10zM1074 552h10v10h-10zM1076 551h10v10h-10zM1077 551h10v10h-10zM1078 551h10v10h-10zM1079 551h10v10h-10zM1080 551h10v10h-10zM1081 551h10v10h-10zM1082 551h10v10h-10zM1083 551h10v10h-10zM1084 551h10v10h-10zM1085 551h10v10h-10zM1087 551h10v10h-10zM1088 551h10v10h-10zM1089 551h10v10h-10zM1090 551h10v10h-10zM1091 551h10v10h-10zM1092 551h10v10h-10zM1093 551h10v10h-10zM1094 551h10v10h-10zM1095 551h10v10h-10zM1096 552h10v10h-10zM1098 552h10v10h-10zM1099 552h10v10h-10zM1100 553h10v10h-10zM1101 553h10v10h-10zM1102 554h10v10h-10zM1103 554h10v10h-10zM1104 556h10v10h-10zM1105 557h10v10h-10zM1106 560h10v10h-10zM1107 562h10v10h-10zM1109 566h10v10h-10zM1110 570h10v10h-10zM1111 575h10v10h-10zM1112 580h10v10h-10zM1113 585h10v10h-10zM1114 591h10v10h-10zM1115 595h10v10h-10zM1116 599h10v10h-10zM1117 602h10v10h-10zM1118 604h10v10h-10zM1120 606h10v10h-10zM1121 608h10v10h-10zM1122 608h10v10h-10zM1123 607h10v10h-10zM1124 604h10v10h-10zM1125 602h10v10h-10zM1126 599h10v10h-10zM1127 595h10v10h-10zM1128 590h10v10h-10zM1129 584h10v10h-10zM1131 578h10v10h-10zM1132 573h10v10h-10zM1133 568h10v10h-10zM1134 564h10v10h-10zM1135 560h10v10h-10zM1136 556h10v10h-10zM1137 553h10v10h-10zM1138 550h10v10h-10zM1139 547h10v10h-10zM1140 545h10v10h-10zM1142 543h10v10h-10zM1143 542h10v10h-10zM1144 540h10v10h-10zM1145 538h10v10h-10zM1146 537h10v10h-10zM1147 536h10v10h-10zM1148 534h10v10h-10zM1149 533h10v10h-10zM1150 532h10v10h-10zM1151 531h10v10h-10zM1153 530h10v10h-10zM1154 529h10v10h-10zM1155 529h10v10h-10zM1156 528h10v10h-10zM1157 527h10v10h-10zM1158 526h10v10h-10zM1159 525h10v10h-10zM1160 525h10v10h-10zM1161 524h10v10h-10zM1162 523h10v10h-10zM1164 522h10v10h-10zM1165 521h10v10h-10zM1166 520h10v10h-10zM1167 519h10v10h-10zM1168 518h10v10h-10zM1169 518h10v10h-10zM1170 517h10v10h-10zM1171 516h10v10h-10zM1172 515h10v10h-10zM1173 514h10v10h-10zM1175 513h10v10h-10zM1176 512h10v10h-10zM1177 512h10v10h-10zM1178 511h10v10h-10zM1179 510h10v10h-10zM1180 509h10v10h-10zM1181 509h10v10h-10zM1182 508h10v10h-10zM1183 507h10v10h-10zM1184 506h10v10h-10zM1186 506h10v10h-10zM1187 505h10v10h-10zM1188 504h10v10h-10zM1189 504h10v10h-10zM1190 503h10v10h-10zM1191 502h10v10h-10zM1192 502h10v10h-10zM1193 501h10v10h-10zM1194 500h10v10h-10zM1195 500h10v10h-10zM1197 499h10v10h-10zM1198 498h10v10h-10zM1199 497h10v10h-10zM1200 497h10v10h-10zM1201 496h10v10h-10zM1202 495h10v10h-10zM1203 494h10v10h-10zM1204 493h10v10h-10zM1205 493h10v10h-10zM1206 492h10v10h-10zM1208 491h10v10h-10zM1209 490h10v10h-10zM1210 489h10v10h-10zM1211 488h10v10h-10zM1212 487h10v10h-10zM1213 486h10v10h-10zM1214 485h10v10h-10zM1215 484h10v10h-10zM1216 483h10v10h-10zM1217 482h10v10h-10zM1219 481h10v10h-10zM1220 481h10v10h-10zM1221 480h10v10h-10zM1222 479h10v10h-10zM1223 478h10v10h-10zM1224 477h10v10h-10zM1225 476h10v10h-10zM1226 475h10v10h-10zM1227 474h10v10h-10zM1228 473h10v10h-10zM1230 472h10v10h-10zM1231 471h10v10h-10zM1232 470h10v10h-10zM1233 469h10v10h-10zM1234 468h10v10h-10zM1235 467h10v10h-10zM1236 466h10v10h-10zM1237 465h10v10h-10zM1238 464h10v10h-10zM1239 463h10v10h-10zM1241 462h10v10h-10zM1242 461h10v10h-10zM1243 459h10v10h-10zM1244 458h10v10h-10zM1245 457h10v10h-10zM1246 456h10v10h-10zM1247 455h10v10h-10zM1248 453h10v10h-10zM1249 452h10v10h-10zM1250 451h10v10h-10zM1252 450h10v10h-10zM1253 448h10v10h-10zM1254 447h10v10h-10zM1255 446h10v10h-10zM1256 445h10v10h-10zM1257 443h10v10h-10zM1258 442h10v10h-10zM1259 441h10v10h-10zM1260 440h10v10h-10zM1261 439h10v10h-10zM1263 437h10v10h-10zM1264 436h10v10h-10zM1265 435h10v10h-10zM1266 434h10v10h-10zM1267 433h10v10h-10zM1268 432h10v10h-10zM1269 430h10v10h-10zM1270 429h10v10h-10zM1271 428h10v10h-10zM1272 427h10v10h-10zM1274 426h10v10h-10zM1275 425h10v10h-10zM1276 424h10v10h-10zM1277 422h10v10h-10zM1278 421h10v10h-10zM1279 420h10v10h-10zM1280 419h10v10h-10zM1281 417h10v10h-10zM1282 416h10v10h-10zM1283 414h10v10h-10zM1285 412h10v10h-10zM1286 411h10v10h-10zM1287 409h10v10h-10zM1288 407h10v10h-10zM1289 405h10v10h-10zM1290 404h10v10h-10zM1291 402h10v10h-10zM1292 401h10v10h-10zM1293 399h10v10h-10zM1294 398h10v10h-10zM1296 396h10v10h-10zM1297 395h10v10h-10zM1298 394h10v10h-10zM1299 392h10v10h-10zM1300 391h10v10h-10zM1301 389h10v10h-10zM1302 387h10v10h-10zM1303 386h10v10h-10zM1304 384h10v10h-10zM1305 382h10v10h-10zM1307 381h10v10h-10zM1308 379h10v10h-10zM1309 377h10v10h-10zM1310 376h10v10h-10zM1311 374h10v10h-10zM1312 373h10v10h-10zM1313 371h10v10h-10zM1314 370h10v10h-10zM1315 368h10v10h-10zM1316 367h10v10h-10zM1318 365h10v10h-10zM1319 364h10v10h-10zM1320 363h10v10h-10zM1321 361h10v10h-10zM1322 360h10v10h-10zM1323 358h10v10h-10zM1324 357h10v10h-10zM1325 355h10v10h-10zM1326 354h10v10h-10zM1327 352h10v10h-10zM1329 350h10v10h-10zM1330 348h10v10h-10zM1331 346h10v10h-10zM1332 345h10v10h-10zM1333 343h10v10h-10zM1334 341h10v10h-10zM1335 339h10v10h-10zM1336 338h10v10h-10zM1337 336h10v10h-10zM1338 334h10v10h-10zM1340 332h10v10h-10zM1341 330h10v10h-10zM1342 328h10v10h-10zM1343 326h10v10h-10zM1344 324h10v10h-10zM1345 322h10v10h-10zM1346 320h10v10h-10zM1347 318h10v10h-10zM1348 316h10v10h-10zM1349 315h10v10h-10zM1351 313h10v10h-10zM1352 311h10v10h-10zM1353 310h10v10h-10zM1354 308h10v10h-10zM1355 306h10v10h-10zM1356 304h10v10h-10zM1357 303h10v10h-10zM1358 301h10v10h-10zM1359 299h10v10h-10zM1360 297h10v10h-10zM1362 295h10v10h-10zM1363 293h10v10h-10zM1364 291h10v10h-10zM1365 289h10v10h-10zM1366 287h10v10h-10zM1367 285h10v10h-10zM1368 283h10v10h-10zM1369 281h10v10h-10zM1370 278h10v10h-10zM1371 276h10v10h-10zM1373 274h10v10h-10zM1374 272h10v10h-10zM1375 270h10v10h-10zM1376 268h10v10h-10zM1377 267h10v10h-10zM1378 265h10v10h-10zM1379 263h10v10h-10zM1380 261h10v10h-10zM1381 260h10v10h-10zM1382 258h10v10h-10zM1384 256h10v10h-10zM1385 255h10v10h-10zM1386 254h10v10h-10zM1387 252h10v10h-10zM1388 251h10v10h-10zM1389 250h10v10h-10zM1390 249h10v10h-10zM1391 247h10v10h-10zM1392 246h10v10h-10zM1393 245h10v10h-10zM1395 244h10v10h-10zM1396 243h10v10h-10zM1397 241h10v10h-10zM1398 240h10v10h-10zM1399 239h10v10h-10zM1400 238h10v10h-10zM1401 237h10v10h-10zM1402 236h10v10h-10zM1403 236h10v10h-10zM1404 235h10v10h-10zM1406 234h10v10h-10zM1407 234h10v10h-10zM1408 233h10v10h-10zM1409 233h10v10h-10zM1410 233h10v10h-10zM1411 233h10v10h-10zM1412 233h10v10h-10zM1413 233h10v10h-10zM1414 234h10v10h-10zM1415 234h10v10h-10zM1417 235h10v10h-10zM1418 236h10v10h-10zM1419 237h10v10h-10zM1420 239h10v10h-10zM1421 241h10v10h-10zM1422 243h10v10h-10zM1423 245h10v10h-10zM1424 248h10v10h-10zM1425 251h10v10h-10zM1426 254h10v10h-10zM1428 258h10v10h-10zM1429 262h10v10h-10zM1430 267h10v10h-10zM1431 273h10v10h-10zM1432 279h10v10h-10zM1433 285h10v10h-10zM1434 291h10v10h-10zM1435 297h10v10h-10zM1436 302h10v10h-10zM1437 308h10v10h-10zM1439 313h10v10h-10zM1440 319h10v10h-10zM1441 325h10v10h-10zM1442 330h10v10h-10zM1443 334h10v10h-10zM1444 338h10v10h-10zM1445 341h10v10h-10zM1446 346h10v10h-10zM1447 350h10v10h-10zM1448 354h10v10h-10zM1450 359h10v10h-10zM1451 362h10v10h-10zM1452 365h10v10h-10zM1453 368h10v10h-10zM1454 370h10v10h-10zM1455 372h10v10h-10zM1456 375h10v10h-10zM1457 376h10v10h-10zM1458 378h10v10h-10zM1459 380h10v10h-10zM1461 381h10v10h-10zM1462 383h10v10h-10zM1463 384h10v10h-10zM1464 386h10v10h-10zM1465 387h10v10h-10zM1466 388h10v10h-10zM1467 389h10v10h-10zM1468 390h10v10h-10zM1469 391h10v10h-10zM1470 392h10v10h-10zM1472 392h10v10h-10zM1473 393h10v10h-10zM1474 394h10v10h-10zM1475 394h10v10h-10zM1476 395h10v10h-10zM1477 395h10v10h-10zM1478 396h10v10h-10zM1479 396h10v10h-10zM1480 397h10v10h-10zM1481 397h10v10h-10zM1483 398h10v10h-10zM1484 398h10v10h-10zM1485 398h10v10h-10zM1486 399h10v10h-10zM1487 399h10v10h-10zM1488 399h10v10h-10zM1489 399h10v10h-10zM1490 399h10v10h-10zM1491 398h10v10h-10zM1492 398h10v10h-10zM1494 398h10v10h-10zM1495 398h10v10h-10zM1496 398h10v10h-10zM1497 398h10v10h-10zM1498 398h10v10h-10zM1499 398h10v10h-10zM1500 398h10v10h-10zM1501 398h10v10h-10zM1502 398h10v10h-10zM1503 398h10v10h-10zM1505 398h10v10h-10zM1506 397h10v10h-10zM1507 397h10v10h-10zM1508 396h10v10h-10zM1509 396h10v10h-10zM1510 395h10v10h-10zM1511 394h10v10h-10zM1512 393h10v10h-10zM1513 393h10v10h-10zM1514 392h10v10h-10zM1516 391h10v10h-10zM1517 390h10v10h-10zM1518 389h10v10h-10zM1519 388h10v10h-10zM1520 387h10v10h-10zM1521 386h10v10h-10zM1522 384h10v10h-10zM1523 383h10v10h-10zM1524 382h10v10h-10zM1525 380h10v10h-10zM1527 379h10v10h-10zM1528 377h10v10h-10zM1529 376h10v10h-10zM1530 374h10v10h-10zM1531 372h10v10h-10zM1532 371h10v10h-10zM1533 369h10v10h-10zM1534 367h10v10h-10zM1535 364h10v10h-10zM1536 362h10v10h-10zM1538 360h10v10h-10zM1539 357h10v10h-10zM1540 355h10v10h-10zM1541 353h10v10h-10zM1542 350h10v10h-10zM1543 348h10v10h-10zM1544 346h10v10h-10zM1545 343h10v10h-10zM1546 341h10v10h-10zM1547 338h10v10h-10zM1549 335h10v10h-10zM1550 331h10v10h-10zM1551 328h10v10h-10zM1552 324h10v10h-10zM1553 320h10v10h-10zM1554 315h10v10h-10zM1555 310h10v10h-10zM1556 306h10v10h-10zM1557 301h10v10h-10zM1558 297h10v10h-10zM1560 292h10v10h-10zM1561 286h10v10h-10zM1562 277h10v10h-10zM1563 269h10v10h-10zM1564 262h10v10h-10zM1565 256h10v10h-10zM1566 249h10v10h-10zM1567 241h10v10h-10zM1568 230h10v10h-10zM1569 219h10v10h-10zM1571 212h10v10h-10zM1572 209h10v10h-10zM1573 206h10v10h-10zM1574 205h10v10h-10zM1575 203h10v10h-10zM1576 202h10v10h-10zM1577 202h10v10h-10zM1578 202h10v10h-10zM1579 203h10v10h-10zM1580 204h10v10h-10zM1582 205h10v10h-10zM1583 208h10v10h-10zM1584 210h10v10h-10zM1585 214h10v10h-10zM1586 219h10v10h-10zM1587 224h10v10h-10zM1588 231h10v10h-10zM1589 239h10v10h-10zM1590 248h10v10h-10zM1591 257h10v10h-10zM1593 267h10v10h-10zM1594 276h10v10h-10zM1595 285h10v10h-10zM1596 294h10v10h-10zM1597 303h10v10h-10zM1598 312h10v10h-10zM1599 322h10v10h-10zM1600 332h10v10h-10zM1601 340h10v10h-10zM1602 347h10v10h-10zM1604 353h10v10h-10zM1605 359h10v10h-10zM1606 364h10v10h-10zM1607 368h10v10h-10zM1608 372h10v10h-10zM1609 375h10v10h-10zM1610 378h10v10h-10zM1611 381h10v10h-10zM1612 384h10v10h-10zM1613 387h10v10h-10zM1615 389h10v10h-10zM1616 391h10v10h-10zM1617 393h10v10h-10zM1618 395h10v10h-10zM1619 397h10v10h-10zM1620 399h10v10h-10zM1621 401h10v10h-10zM1622 403h10v10h-10zM1623 405h10v10h-10zM1624 407h10v10h-10zM1626 409h10v10h-10zM1627 410h10v10h-10zM1628 412h10v10h-10zM1629 414h10v10h-10zM1630 415h10v10h-10zM1631 417h10v10h-10zM1632 418h10v10h-10zM1633 419h10v10h-10zM1634 421h10v10h-10zM1635 422h10v10h-10zM1637 423h10v10h-10zM1638 424h10v10h-10zM1639 425h10v10h-10zM1640 427h10v10h-10zM1641 428h10v10h-10zM1642 429h10v10h-10zM1643 430h10v10h-10zM1644 430h10v10h-10zM1645 431h10v10h-10zM1646 432h10v10h-10zM1648 433h10v10h-10zM1649 434h10v10h-10zM1650 434h10v10h-10zM1651 435h10v10h-10zM1652 436h10v10h-10zM1653 436h10v10h-10zM1654 437h10v10h-10zM1655 438h10v10h-10zM1656 438h10v10h-10zM1657 439h10v10h-10zM1659 440h10v10h-10zM1660 441h10v10h-10zM1661 441h10v10h-10zM1662 442h10v10h-10zM1663 443h10v10h-10zM1664 444h10v10h-10zM1665 444h10v10h-10zM1666 445h10v10h-10zM1667 446h10v10h-10zM1668 447h10v10h-10zM1670 447h10v10h-10zM1671 448h10v10h-10zM1672 449h10v10h-10zM1673 449h10v10h-10zM1674 450h10v10h-10zM1675 451h10v10h-10zM1676 452h10v10h-10zM1677 452h10v10h-10zM1678 453h10v10h-10zM1679 454h10v10h-10zM1681 454h10v10h-10zM1682 455h10v10h-10zM1683 456h10v10h-10zM1684 456h10v10h-10zM1685 457h10v10h-10zM1686 458h10v10h-10zM1687 458h10v10h-10zM1688 459h10v10h-10zM1689 459h10v10h-10zM1690 460h10v10h-10zM1692 461h10v10h-10zM1693 461h10v10h-10zM1694 462h10v10h-10zM1695 463h10v10h-10zM1696 463h10v10h-10zM1697 464h10v10h-10zM1698 465h10v10h-10zM1699 465h10v10h-10zM1700 466h10v10h-10zM1701 467h10v10h-10zM1703 467h10v10h-10zM1704 468h10v10h-10zM1705 469h10v10h-10zM1706 469h10v10h-10zM1707 470h10v10h-10zM1708 471h10v10h-10zM1709 471h10v10h-10zM1710 472h10v10h-10zM1711 473h10v10h-10zM1712 474h10v10h-10zM1714 475h10v10h-10zM1715 475h10v10h-10zM1716 476h10v10h-10zM1717 477h10v10h-10zM1718 478h10v10h-10zM1719 479h10v10h-10zM1720 480h10v10h-10zM1721 480h10v10h-10zM1722 481h10v10h-10zM1723 482h10v10h-10zM1725 483h10v10h-10zM1726 483h10v10h-10zM1727 484h10v10h-10zM1728 485h10v10h-10zM1729 485h10v10h-10zM1730 486h10v10h-10zM1731 486h10v10h-10zM1732 487h10v10h-10zM1733 487h10v10h-10zM1734 488h10v10h-10zM1736 488h10v10h-10zM1737 489h10v10h-10zM1738 489h10v10h-10zM1739 490h10v10h-10zM1740 490h10v10h-10zM1741 491h10v10h-10zM1742 491h10v10h-10zM1743 492h10v10h-10zM1744 492h10v10h-10zM1745 492h10v10h-10zM1747 493h10v10h-10zM1748 493h10v10h-10zM1749 494h10v10h-10zM1750 494h10v10h-10zM1751 495h10v10h-10zM1752 495h10v10h-10zM1753 495h10v10h-10zM1754 496h10v10h-10zM1755 496h10v10h-10zM1756 497h10v10h-10zM1758 497h10v10h-10zM1759 498h10v10h-10zM1760 498h10v10h-10zM1761 499h10v10h-10zM1762 499h10v10h-10zM1763 500h10v10h-10zM1764 500h10v10h-10zM1765 501h10v10h-10zM1766 501h10v10h-10zM1767 502h10v10h-10zM1769 503h10v10h-10zM1770 503h10v10h-10zM1771 504h10v10h-10zM1772 504h10v10h-10zM1773 505h10v10h-10zM1774 506h10v10h-10zM1775 507h10v10h-10zM1776 508h10v10h-10zM1777 509h10v10h-10zM1778 510h10v10h-10zM1780 511h10v10h-10zM1781 512h10v10h-10zM1782 514h10v10h-10zM1783 515h10v10h-10zM1784 516h10v10h-10zM1785 517h10v10h-10zM1786 518h10v10h-10zM1787 518h10v10h-10zM1788 519h10v10h-10zM1789 520h10v10h-10zM1791 521h10v10h-10zM1792 521h10v10h-10zM1793 522h10v10h-10zM1794 522h10v10h-10zM1795 523h10v10h-10zM1796 523h10v10h-10zM1797 524h10v10h-10zM1798 524h10v10h-10zM1799 525h10v10h-10zM1800 525h10v10h-10zM1802 525h10v10h-10zM1803 526h10v10h-10zM1804 526h10v10h-10zM1805 526h10v10h-10zM1806 526h10v10h-10zM1807 527h10v10h-10zM1808 527h10v10h-10zM1809 528h10v10h-10zM1810 528h10v10h-10zM1811 528h10v10h-10zM1813 529h10v10h-10zM1814 529h10v10h-10zM1815 530h10v10h-10zM1816 530h10v10h-10zM1817 531h10v10h-10zM1818 531h10v10h-10zM1819 532h10v10h-10zM1820 532h10v10h-10zM1821 533h10v10h-10zM1822 533h10v10h-10zM1824 534h10v10h-10zM1825 534h10v10h-10zM1826 534h10v10h-10zM1827 535h10v10h-10zM1828 535h10v10h-10zM1829 535h10v10h-10zM1830 535h10v10h-10zM1831 535h10v10h-10zM1832 535h10v10h-10zM1833 535h10v10h-10zM1835 535h10v10h-10zM1836 535h10v10h-10zM1837 535h10v10h-10zM1838 535h10v10h-10zM1839 535h10v10h-10zM1840 535h10v10h-10zM1841 535h10v10h-10zM1842 535h10v10h-10zM1843 535h10v10h-10zM1844 535h10v10h-10zM1846 535h10v10h-10zM1847 536h10v10h-10zM1848 536h10v10h-10zM1849 536h10v10h-10zM1850 536h10v10h-10zM1851 536h10v10h-10zM1852 536h10v10h-10zM1853 537h10v10h-10zM1854 537h10v10h-10zM1855 537h10v10h-10zM1857 537h10v10h-10zM1858 537h10v10h-10zM1859 538h10v10h-10zM1860 538h10v10h-10zM1861 538h10v10h-10zM1862 538h10v10h-10zM1863 538h10v10h-10zM1864 539h10v10h-10zM1865 539h10v10h-10zM1866 539h10v10h-10zM1868 539h10v10h-10zM1869 539h10v10h-10zM1870 539h10v10h-10zM1871 539h10v10h-10zM1872 539h10v10h-10zM1873 539h10v10h-10zM1874 539h10v10h-10zM1875 539h10v10h-10zM1876 539h10v10h-10zM1877 539h10v10h-10zM1879 539h10v10h-10zM1880 539h10v10h-10zM1881 539h10v10h-10zM1882 539h10v10h-10zM1883 539h10v10h-10zM1884 539h10v10h-10zM1885 539h10v10h-10zM1886 539h10v10h-10zM1887 539h10v10h-10zM1888 539h10v10h-10zM1890 540h10v10h-10zM1891 540h10v10h-10zM1892 540h10v10h-10zM1893 540h10v10h-10zM1894 541h10v10h-10zM1895 541h10v10h-10zM1896 541h10v10h-10zM1897 542h10v10h-10zM1898 542h10v10h-10zM1899 542h10v10h-10zM1901 543h10v10h-10zM1902 543h10v10h-10zM1903 543h10v10h-10zM1904 543h10v10h-10zM1905 543h10v10h-10zM1906 543h10v10h-10zM1907 543h10v10h-10zM1908 543h10v10h-10zM1909 543h10v10h-10zM1910 543h10v10h-10zM1912 543h10v10h-10zM1913 543h10v10h-10zM1914 543h10v10h-10zM1915 543h10v10h-10zM1916 544h10v10h-10zM1917 544h10v10h-10zM1918 544h10v10h-10zM1919 544h10v10h-10zM1920 544h10v10h-10zM1921 545h10v10h-10zM1923 545h10v10h-10zM1924 545h10v10h-10zM1925 546h10v10h-10zM1926 546h10v10h-10zM1927 547h10v10h-10zM1928 548h10v10h-10zM1929 548h10v10h-10zM1930 548h10v10h-10zM1931 549h10v10h-10zM1932 549h10v10h-10zM1934 549h10v10h-10zM1935 549h10v10h-10zM1936 549h10v10h-10zM1937 549h10v10h-10zM1938 549h10v10h-10zM1939 549h10v10h-10zM1940 549h10v10h-10zM1941 549h10v10h-10zM1942 549h10v10h-10zM1943 549h10v10h-10zM1945 549h10v10h-10zM1946 549h10v10h-10zM1947 549h10v10h-10zM1948 549h10v10h-10zM1949 549h10v10h-10zM1950 549h10v10h-10zM1951 549h10v10h-10zM1952 549h10v10h-10zM1953 549h10v10h-10zM1954 549h10v10h-10zM1956 550h10v10h-10zM1957 550h10v10h-10zM1958 550h10v10h-10zM1959 550h10v10h-10zM1960 550h10v10h-10zM1961 550h10v10h-10zM1962 551h10v10h-10zM1963 551h10v10h-10zM1964 551h10v10h-10zM1965 551h10v10h-10zM1967 552h10v10h-10zM1968 552h10v10h-10zM1969 552h10v10h-10zM1970 552h10v10h-10zM1971 552h10v10h-10zM1972 553h10v10h-10zM1973 553h10v10h-10zM1974 553h10v10h-10zM1975 554h10v10h-10zM1976 554h10v10h-10zM1978 554h10v10h-10zM1979 555h10v10h-10zM1980 555h10v10h-10zM1981 555h10v10h-10zM1982 555h10v10h-10zM1983 555h10v10h-10zM1984 556h10v10h-10zM1985 556h10v10h-10zM1986 556h10v10h-10zM1987 556h10v10h-10zM1989 556h10v10h-10zM1990 556h10v10h-10zM1991 556h10v10h-10zM1992 556h10v10h-10zM1993 556h10v10h-10zM1994 556h10v10h-10zM1995 556h10v10h-10zM1996 557h10v10h-10zM1997 557h10v10h-10zM1998 557h10v10h-10zM2000 557h10v10h-10zM2001 557h10v10h-10zM2002 557h10v10h-10zM2003 557h10v10h-10zM2004 557h10v10h-10zM2005 557h10v10h-10zM2006 557h10v10h-10zM2007 557h10v10h-10zM2008 558h10v10h-10zM2009 558h10v10h-10zM2011 558h10v10h-10zM2012 558h10v10h-10zM2013 558h10v10h-10zM2014 558h10v10h-10zM2015 558h10v10h-10zM2016 558h10v10h-10zM2017 559h10v10h-10zM2018 559h10v10h-10zM2019 559h10v10h-10zM2020 559h10v10h-10zM2022 559h10v10h-10zM2023 559h10v10h-10zM2024 560h10v10h-10zM2025 560h10v10h-10zM2026 560h10v10h-10zM2027 560h10v10h-10zM2028 561h10v10h-10zM2029 561h10v10h-10zM2030 561h10v10h-10zM2031 561h10v10h-10zM2033 561h10v10h-10zM2034 562h10v10h-10zM2035 562h10v10h-10zM2036 562h10v10h-10zM2037 562h10v10h-10zM2038 563h10v10h-10zM2039 563h10v10h-10zM2040 563h10v10h-10zM2041 563h10v10h-10zM2042 564h10v10h-10zM2044 564h10v10h-10zM2045 564h10v10h-10zM2046 564h10v10h-10zM2047 564h10v10h-10zM2048 564h10v10h-10zM2049 564h10v10h-10zM2050 564h10v10h-10zM2051 564h10v10h-10zM2052 565h10v10h-10zM2053 565h10v10h-10zM2055 565h10v10h-10zM2056 565h10v10h-10zM2057 565h10v10h-10zM2058 565h10v10h-10zM2059 565h10v10h-10zM2060 565h10v10h-10zM2061 565h10v10h-10zM2062 566h10v10h-10zM2063 566h10v10h-10zM2064 566h10v10h-10zM2066 566h10v10h-10zM2067 567h10v10h-10zM2068 567h10v10h-10zM2069 567h10v10h-10zM2070 568h10v10h-10zM2071 568h10v10h-10zM2072 568h10v10h-10zM2073 569h10v10h-10zM2074 569h10v10h-10zM2075 570h10v10h-10zM2077 570h10v10h-10zM2078 570h10v10h-10zM2079 571h10v10h-10zM2080 571h10v10h-10zM2081 571h10v10h-10zM2082 571h10v10h-10zM2083 572h10v10h-10zM2084 572h10v10h-10zM2085 572h10v10h-10zM2086 572h10v10h-10zM2088 573h10v10h-10zM2089 573h10v10h-10zM2090 573h10v10h-10zM2091 573h10v10h-10zM2092 573h10v10h-10zM2093 574h10v10h-10zM2094 574h10v10h-10zM2095 574h10v10h-10zM2096 574h10v10h-10zM2097 574h10v10h-10zM2099 575h10v10h-10zM2100 575h10v10h-10zM2101 575h10v10h-10zM2102 576h10v10h-10zM2103 576h10v10h-10zM2104 576h10v10h-10zM2105 576h10v10h-10zM2106 577h10v10h-10zM2107 577h10v10h-10zM2108 577h10v10h-10zM2110 578h10v10h-10zM2111 578h10v10h-10zM2112 578h10v10h-10zM2113 578h10v10h-10zM2114 579h10v10h-10zM2115 579h10v10h-10zM2116 579h10v10h-10zM2117 580h10v10h-10zM2118 580h10v10h-10zM2119 580h10v10h-10zM2121 581h10v10h-10zM2121 581h10v10h-10zM840 698h10v10h-10zM841 710h10v10h-10zM843 721h10v10h-10zM844 733h10v10h-10zM845 744h10v10h-10zM879 926h10v10h-10zM880 939h10v10h-10zM881 952h10v10h-10zM882 968h10v10h-10zM883 986h10v10h-10zM884 1004h10v10h-10zM885 1022h10v10h-10zM886 1043h10v10h-10zM887 1067h10v10h-10zM888 1090h10v10h-10zM890 1110h10v10h-10zM891 1131h10v10h-10zM891 1151h10v10h-10zM892 1170h10v10h-10zM893 1188h10v10h-10zM894 1205h10v10h-10zM895 1221h10v10h-10zM896 1238h10v10h-10zM897 1253h10v10h-10zM898 1268h10v10h-10zM899 1282h10v10h-10zM900 1293h10v10h-10zM901 1306h10v10h-10zM910 1319h10v10h-10zM911 1306h10v10h-10zM912 1292h10v10h-10zM913 1274h10v10h-10zM914 1255h10v10h-10zM915 1234h10v10h-10zM917 1209h10v10h-10zM918 1187h10v10h-10zM919 1166h10v10h-10zM920 1147h10v10h-10zM922 1129h10v10h-10zM923 1110h10v10h-10zM924 1092h10v10h-10zM925 1075h10v10h-10zM927 1059h10v10h-10zM928 1041h10v10h-10zM929 1023h10v10h-10zM930 1004h10v10h-10zM931 984h10v10h-10zM933 964h10v10h-10zM934 940h10v10h-10zM936 914h10v10h-10zM937 891h10v10h-10zM939 867h10v10h-10zM940 844h10v10h-10zM942 820h10v10h-10zM943 799h10v10h-10zM944 778h10v10h-10zM946 756h10v10h-10zM947 738h10v10h-10zM948 722h10v10h-10zM950 706h10v10h-10zM952 691h10v10h-10zM953 678h10v10h-10zM954 664h10v10h-10z" fill="#000" shape-rendering="crispEdges"/>
<path d="M572.8 498.4L576.3 498.3L579.8 498.3L583.4 498.2L586.9 498.1L590.5 498L594 497.9L597.5 497.9L601 497.9L604.5 497.9L607.9 497.9L611.2 498L614.4 498.1L617.6 498.2L620.8 498.3L623.9 498.5L627.1 498.6L630.3 498.8L633.4 499L636.6 499.3L639.8 499.5L643 499.8L646.2 500L649.4 500.3L652.6 500.6L655.8 501L659 501.3L662.2 501.6L665.4 502L668.6 502.3L671.8 502.7L675 503.1L678.2 503.4L681.4 503.8L684.6 504.2L687.8 504.6L690.9 505L694.1 505.4L697.3 505.8L700.5 506.3L703.7 506.7L706.9 507.2L710.1 507.6L713.3 508.1L716.5 508.6L719.7 509.1L722.9 509.6L726.1 510.1L729.3 510.6L732.5 511L735.7 511.5L738.9 511.9L742.1 512.3L745.3 512.7L748.5 513.1L751.7 513.5L754.8 513.9L758 514.3L761.2 514.7L764.4 515.1L767.6 515.5L770.8 515.9L774.1 516.4L777.4 516.8L780.8 517.2L784.1 517.7L787.3 518.1L790.6 518.6L793.7 519L796.7 519.5L799.5 520L801.6 520.4L803.6 520.7L805.6 521.1L807.4 521.5L809.3 521.9L811.1 522.3L812.9 522.7L814.7 523.1L816.5 523.5L818.4 524L820.3 524.5L822.2 525L824.1 525.5L826 526L827.8 526.5L829.7 527L831.6 527.6L833.4 528.2L835.2 528.8L836.9 529.5L838.5 530.1L840 530.8L841.5 531.5L843 532.2L844.5 532.9L845.9 533.7L847.4 534.4L848.8 535.2L850.2 536.1L851.6 536.9L853 537.8L854.4 538.7L855.8 539.6L857.2 540.6L858.6 541.6L859.9 542.6L861.2 543.6L862.6 544.6L863.8 545.6L865.1 546.7L866.3 547.7L867.5 548.8L868.7 549.8L869.8 550.9L870.9 552L872 553.1L873.1 554.2L874.2 555.3L875.2 556.5L876.2 557.7L877.2 559L878.1 560.2L879.1 561.6L880 562.9L880.8 564.3L881.7 565.7L882.5 567.1L883.3 568.5L884.1 569.9L884.8 571.3L885.5 572.7L886.2 574.1L886.8 575.6L887.4 577L888 578.5L888.6 579.9L889.2 581.4L889.7 582.9L890.3 584.4L890.9 586L891.5 587.7L892.2 589.5L892.8 591.3L893.5 593.2L894.1 595L894.7 596.9L895.4 598.8L896 600.7L896.5 602.5L897.1 604.4L897.6 606.2L898.2 608.1L898.7 609.9L899.2 611.8L899.7 613.6L900.1 615.5L900.6 617.3L901.1 619.2L901.5 621L902 622.9L902.5 624.7L902.9 626.6L903.3 628.4L903.7 630.3L904.1 632.1L904.6 633.9L905 635.8L905.4 637.6L905.8 639.5L906.3 641.3L906.8 643.1L907.2 645L907.7 646.8L908.2 648.7L908.7 650.5L909.2 652.3L909.7 654.2L910.2 656L910.7 657.9L911.2 659.7L911.7 661.5L912.2 663.4L912.8 665.2L913.3 667.1L913.8 668.9L914.3 670.8L914.9 672.6L915.5 674.4L916.1 676.3L916.7 678.1L917.4 680L918 681.8L918.8 683.7L919.5 685.5L920.2 687.4L921 689.2L921.7 691.1L922.5 692.9L923.3 694.8L924.1 696.6L924.9 698.5L925.7 700.3L926.5 702.2L927.4 704.1L928.2 706L929.1 707.9L929.9 709.7L930.8 711.5L931.8 713.3L932.7 715L933.6 716.6L934.5 718.2L935.4 719.7L936.3 721.2L937.2 722.7L938.2 724.2L939.2 725.6L940.2 727L941.3 728.4L942.5 729.7L943.8 731L945.1 732.2L946.4 733.4L947.9 734.6L949.3 735.7L950.8 736.7L952.4 737.8L953.9 738.8L955.6 739.8L957.2 740.8L959.1 741.9L961.2 743L963.3 744L965.5 745L967.7 746L969.9 747L972.1 747.8L974.2 748.7L976.2 749.4L978.1 750L979.4 750.4L980.6 750.7L981.7 750.9L982.8 751.1L983.8 751.3L984.9 751.4L986 751.6L987.3 751.8L988.6 752.1L990 752.4L992.9 753.1L996.1 754L999.6 755L1003.3 756.1L1007.2 757.2L1011.2 758.3L1015.2 759.5L1019.2 760.6L1023.1 761.6L1026.9 762.6L1030.6 763.5L1034.2 764.3L1037.9 765.1L1041.6 765.9L1045.3 766.6L1049 767.3L1052.6 768.1L1056.3 768.8L1060 769.5L1063.7 770.2L1067.4 770.9L1071.1 771.6L1074.8 772.2L1078.5 772.9L1082.2 773.5L1085.8 774.2L1089.5 774.8L1093.2 775.5L1096.9 776.2L1100.6 776.9L1104.3 777.6L1108 778.4L1111.7 779.2L1115.3 780L1119 780.8L1122.7 781.6L1126.4 782.4L1130 783.3L1133.7 784.1L1137.4 784.9L1141.2 785.7L1145 786.6L1149 787.5L1153 788.4L1156.9 789.3L1160.7 790.1L1164.5 791L1168 791.8L1171.3 792.6L1174.3 793.3L1176 793.7L1177.5 794.1L1178.9 794.5L1180.3 794.8L1181.5 795.1L1182.8 795.5L1184.2 795.8L1185.6 796.2L1187.2 796.6L1189 797L1192.6 797.8L1196.5 798.7L1200.9 799.6L1205.5 800.6L1210.3 801.6L1215.2 802.6L1220.3 803.6L1225.4 804.7L1230.4 805.7L1235.3 806.7L1240.6 807.8L1246 808.8L1251.5 809.9L1257.1 811L1262.7 812L1268.3 813.1L1273.9 814.2L1279.5 815.4L1285.1 816.6L1290.6 817.8L1296.1 819.1L1301.7 820.4L1307.2 821.7L1312.7 823L1318.3 824.4L1323.8 825.8L1329.3 827.3L1334.8 828.8L1340.3 830.3L1345.8 832L1351.4 833.8L1357.2 835.8L1363 837.9L1368.8 840.1L1374.6 842.3L1380.3 844.5L1385.8 846.5L1391.2 848.5L1396.3 850.3L1401.1 851.9L1404.3 852.9L1407.5 853.8L1410.4 854.7L1413.3 855.5L1416.2 856.2L1418.9 856.9L1421.7 857.6L1424.4 858.3L1427.2 858.9L1430 859.5L1432.7 860.1L1435.3 860.6L1438 861.1L1440.6 861.5L1443.2 861.9L1445.8 862.3L1448.4 862.7L1451.1 863.1L1453.7 863.5L1456.4 863.8L1459.1 864.1L1461.8 864.5L1464.5 864.7L1467.2 865L1469.9 865.3L1472.6 865.5L1475.4 865.7L1478.3 866L1481.2 866.2L1484.3 866.4L1488.4 866.7L1492.8 866.9L1497.3 867.2L1501.9 867.5L1506.6 867.7L1511.3 867.9L1516.1 868.1L1520.9 868.3L1525.6 868.4L1530.3 868.5L1534.9 868.6L1539.7 868.6L1544.4 868.5L1549.2 868.4L1553.9 868.3L1558.6 868.3L1563.3 868.2L1567.8 868.1L1572.2 868.1L1576.4 868.1L1579.7 868.1L1582.8 868.2L1585.7 868.3L1588.6 868.4L1591.5 868.4L1594.4 868.5L1597.3 868.7L1600.4 868.8L1603.6 868.9L1607.1 869.1L1612.4 869.4L1618 869.7L1624 870.1L1630.2 870.5L1636.5 870.9L1643 871.3L1649.5 871.7L1656 872.1L1662.4 872.5L1668.6 872.8L1674.7 873.1L1680.8 873.3L1686.9 873.5L1693 873.7L1699.1 873.9L1705.2 874L1711.4 874.2L1717.5 874.3L1723.7 874.5L1730 874.6L1736.7 874.7L1743.7 874.9L1750.8 875L1758 875.1L1765.1 875.3L1772.2 875.4L1779 875.5L1785.6 875.6L1791.8 875.7L1797.5 875.8L1801.1 875.9L1804.4 875.9L1807.4 876L1810.4 876.1L1813.2 876.2L1816.1 876.2L1819 876.3L1822.1 876.4L1825.5 876.4L1829.1 876.5L1835.2 876.6L1841.9 876.7L1849 876.7L1856.4 876.8L1864.1 876.9L1871.9 877L1879.8 877L1887.6 877.1L1895.4 877.1L1902.9 877.2L1910.3 877.3L1917.6 877.3L1925 877.4L1932.4 877.4L1939.8 877.5L1947.1 877.5L1954.5 877.6L1961.9 877.6L1969.2 877.7L1976.6 877.7L1984 877.7L1991.5 877.8L1999.1 877.8L2006.6 877.8L2014.2 877.9L2021.6 877.9L2029 877.9L2036.3 877.9L2043.4 878L2050.3 878L2056.1 878L2062 878L2067.8 878L2073.6 878L2079.2 878L2084.7 878L2090 878.1L2095.1 878.1L2099.8 878.1L2104.3 878.2L2107 878.3L2109.6 878.3L2112 878.4L2114.3 878.5L2116.5 878.6L2118.7 878.7L2120.8 878.7L2123 878.8L2125.2 878.9L2127.5 879" stroke="#ff0000" stroke-width="12" stroke-linecap="round" stroke-linejoin="round" fill="none"/>
<path d="M369.5 3244.8H342.2M369.5 3125.1H356M369.5 3005.4H342.2M369.5 2885.7H356M369.5 2766H342.2M369.5 2646.3H356M369.5 2526.6H342.2M369.5 2406.8H356M369.5 2287.1H342.2M369.5 2167.4H356M369.5 2047.7H342.2M369.5 1928H356M369.5 1808.3H342.2M369.5 3244.8V3258.3M496.6 3244.8V3272.1M623.7 3244.8V3258.3M750.8 3244.8V3272.1M877.9 3244.8V3258.3M1005 3244.8V3272.1M1132.1 3244.8V3258.3M1259.2 3244.8V3272.1M1386.3 3244.8V3258.3M1513.4 3244.8V3272.1M1640.5 3244.8V3258.3M1767.6 3244.8V3272.1M1894.7 3244.8V3258.3M2021.8 3244.8V3272.1M2148.9 3244.8V3258.3M2276 3244.8V3272.1M2276 3244.8H2248.7M2276 3101.2H2262.5M2276 2957.5H2248.7M2276 2813.8H2262.5M2276 2670.2H2248.7M2276 2526.6H2262.5M2276 2382.9H2248.7M2276 2239.2H2262.5M2276 2095.6H2248.7M2276 1952H2262.5M2276 1808.3H2248.7" stroke="#000" stroke-width="5.5" stroke-linecap="round" fill="none"/>
<path d="M369.5 1808.3H2276V3244.8H369.5Z" stroke="#000" stroke-width="5.5" fill="none" stroke-linejoin="miter"/>
<text x="324.6" y="3260.4" font-family="'Liberation Sans', Arial, sans-serif" font-size="56" text-anchor="end">-40</text>
<text x="324.6" y="3021" font-family="'Liberation Sans', Arial, sans-serif" font-size="56" text-anchor="end">-20</text>
<text x="324.6" y="2781.6" font-family="'Liberation Sans', Arial, sans-serif" font-size="56" text-anchor="end">0</text>
<text x="324.6" y="2542.2" font-family="'Liberation Sans', Arial, sans-serif" font-size="56" text-anchor="end">20</text>
<text x="324.6" y="2302.7" font-family="'Liberation Sans', Arial, sans-serif" font-size="56" text-anchor="end">40</text>
<text x="324.6" y="2063.3" font-family="'Liberation Sans', Arial, sans-serif" font-size="56" text-anchor="end">60</text>
<text x="324.6" y="1823.9" font-family="'Liberation Sans', Arial, sans-serif" font-size="56" text-anchor="end">80</text>
<text x="496.6" y="3334.8" font-family="'Liberation Sans', Arial, sans-serif" font-size="56" text-anchor="middle">0</text>
<text x="750.8" y="3334.8" font-family="'Liberation Sans', Arial, sans-serif" font-size="56" text-anchor="middle">100</text>
<text x="1005" y="3334.8" font-family="'Liberation Sans', Arial, sans-serif" font-size="56" text-anchor="middle">200</text>
<text x="1259.2" y="3334.8" font-family="'Liberation Sans', Arial, sans-serif" font-size="56" text-anchor="middle">300</text>
<text x="1513.4" y="3334.8" font-family="'Liberation Sans', Arial, sans-serif" font-size="56" text-anchor="middle">400</text>
<text x="1767.6" y="3334.8" font-family="'Liberation Sans', Arial, sans-serif" font-size="56" text-anchor="middle">500</text>
<text x="2021.8" y="3334.8" font-family="'Liberation Sans', Arial, sans-serif" font-size="56" text-anchor="middle">600</text>
<text x="2276" y="3334.8" font-family="'Liberation Sans', Arial, sans-serif" font-size="56" text-anchor="middle">700</text>
<text x="2305.7" y="3260.4" font-family="'Liberation Sans', Arial, sans-serif" font-size="56">0</text>
<text x="2305.7" y="2973.1" font-family="'Liberation Sans', Arial, sans-serif" font-size="56">2</text>
<text x="2305.7" y="2685.8" font-family="'Liberation Sans', Arial, sans-serif" font-size="56">4</text>
<text x="2305.7" y="2398.5" font-family="'Liberation Sans', Arial, sans-serif" font-size="56">6</text>
<text x="2305.7" y="2111.2" font-family="'Liberation Sans', Arial, sans-serif" font-size="56">8</text>
<text x="2305.7" y="1823.9" font-family="'Liberation Sans', Arial, sans-serif" font-size="56">10</text>
<path d="M568.3 2766L569 2767.8L569.8 2769.5L570.8 2771.1L572 2772.6L573.2 2774L574.6 2775.3L576.1 2776.6L577.6 2777.9L579.2 2779.1L580.8 2780.3L582.5 2781.3L584.1 2782.4L585.8 2783.4L587.5 2784.4L589.3 2785.3L591 2786.3L592.7 2787.4L594.4 2788.5L596.1 2789.5L597.7 2790.6L599.4 2791.7L601.1 2792.8L602.7 2793.9L604.4 2795L606 2796.2L607.6 2797.4L609.2 2798.7L610.8 2799.9L612.4 2801.1L614 2802.4L615.7 2803.5L617.3 2804.6L619 2805.7L620.7 2806.8L622.4 2807.8L624.1 2808.8L625.8 2809.8L627.6 2810.8L629.3 2811.7L631.1 2812.7L632.8 2813.7L634.6 2814.6L636.3 2815.5L638.1 2816.5L639.9 2817.4L641.6 2818.3L643.4 2819.3L645.2 2820.2L647 2821.1L648.8 2822L650.5 2822.9L652.3 2823.8L654.1 2824.7L655.9 2825.6L657.7 2826.5L659.4 2827.4L661.2 2828.4L663 2829.3L664.8 2830.2L666.6 2831.1L668.4 2831.9L670.2 2832.8L672.1 2833.6L673.9 2834.4L675.8 2835.2L677.6 2835.9L679.5 2836.5L681.4 2837.1L683.3 2837.7L685.2 2838.3L687.2 2838.8L689.1 2839.2L691 2839.7L693 2840.1L694.9 2840.6L696.9 2841L698.8 2841.4L700.8 2841.8L702.8 2842.2L704.7 2842.6L706.7 2843L708.6 2843.4L710.6 2843.8L712.6 2844.2L714.6 2844.5L716.5 2844.8L718.5 2845L720.5 2845.2L722.5 2845.3L724.5 2845.2L726.5 2845.1L728.5 2845L730.5 2844.8L732.5 2844.6L734.5 2844.4L736.4 2844.2L738.4 2844.1L740.4 2843.9L742.4 2843.8L744.4 2843.7L746.4 2843.5L748.4 2843.4L750.4 2843.3L752.4 2843.1L754.4 2843L756.4 2842.8L758.4 2842.6L760.4 2842.4L762.4 2842.3L764.4 2842.1L766.4 2841.9L768.3 2841.7L770.3 2841.6L772.3 2841.5L774.3 2841.4L776.3 2841.3L778.3 2841.3L780.3 2841.2L782.3 2841.2L784.3 2841.2L786.3 2841.2L788.3 2841.2L790.3 2841.2L792.3 2841.3L794.3 2841.4L796.3 2841.5L798.3 2841.7L800.3 2842L802.2 2842.3L804.1 2842.7L806.1 2843.1L808 2843.7L809.8 2844.3L811.6 2845.1L813.4 2846L815.1 2846.9L816.7 2848L818.2 2849.2L819.6 2850.5L820.9 2852L822.1 2853.7L823.2 2855.4L824.3 2857.2L825.2 2859L826.1 2860.8L826.9 2862.6L827.7 2864.4L828.5 2866.3L829.3 2868.2L830 2870.1L830.7 2871.9L831.4 2873.8L832 2875.7L832.7 2877.6L833.3 2879.5L833.9 2881.3L834.5 2883.2L835.1 2885.2L835.7 2887.1L836.3 2889.1L837 2891.1L837.9 2893L838.9 2894.8L840.1 2896.5L841.4 2897.6L843 2898L844.7 2898.2L846.5 2898.3L848.3 2898.8L850.1 2899.4L851.9 2900L853.7 2900.7L855.5 2901.6L857.1 2902.6L858.7 2903.8L860.1 2905.2L861.5 2906.7L862.8 2908.2L864 2909.9L865.1 2911.5L866.2 2913.2L867.2 2915L868.1 2916.7L869 2918.6L869.8 2920.4L870.5 2922.3L871.3 2924.2L872 2926.1L872.7 2927.9L873.4 2929.8L874.1 2931.7L874.8 2933.5L875.5 2935.4L876.1 2937.3L876.8 2939.2L877.4 2941.1L877.9 2943L878.5 2944.9L879 2946.9L879.5 2948.8L880 2950.8L880.4 2952.7L880.9 2954.7L881.4 2956.6L881.9 2958.5L882.4 2960.5L882.9 2962.4L883.3 2964.3L883.8 2966.3L884.3 2968.2L884.8 2970.2L885.2 2972.1L885.6 2974.1L886 2976L886.3 2978L886.7 2980L887 2982L887.3 2983.9L887.6 2985.9L887.9 2987.9L888.2 2989.9L888.5 2991.9L888.8 2993.8L889 2995.8L889.3 2997.8L889.6 2999.8L889.9 3001.7L890.2 3003.7L890.5 3005.7L890.8 3007.7L891.1 3009.7L891.4 3011.6L891.7 3013.6L892 3015.6L892.3 3017.6L892.6 3019.6L892.8 3021.5L893.1 3023.5L893.4 3025.5L893.7 3027.5L894 3029.4L894.3 3031.4L894.6 3033.4L894.9 3035.4L895.2 3037.4L895.5 3039.3L895.8 3041.3L896.2 3043.3L896.5 3045.3L896.9 3047.2L897.2 3049.2L897.6 3051.2L898 3053.1L898.4 3055.1L898.8 3057L899.2 3059L899.6 3061L900 3062.9L900.4 3064.9L900.8 3066.8L901.2 3068.8L901.6 3070.7L902 3072.7L902.4 3074.7L902.8 3076.6L903.2 3078.6L903.6 3080.6L904.1 3082.5L904.5 3084.5L905.1 3086.4L905.6 3088.3L906.2 3090.2L906.8 3092.1L907.4 3094L908.1 3095.9L908.8 3097.9L909.6 3099.8L910.6 3101.6L911.6 3103.3L912.9 3104.8L914.2 3106.2L915.6 3107.2L917.1 3107.4L918.6 3106.6L920 3105.4L921.3 3104L922.5 3102.4L923.5 3100.6L924.5 3098.8L925.3 3096.9L926 3095L926.7 3093.1L927.3 3091.2L927.8 3089.2L928.3 3087.3L928.7 3085.3L929.2 3083.4L929.6 3081.4L930 3079.5L930.4 3077.5L930.8 3075.5L931.3 3073.6L931.7 3071.6L932.2 3069.7L932.7 3067.8L933.2 3065.9L933.7 3063.9L934.2 3062L934.7 3060.1L935.2 3058.1L935.6 3056.2L936 3054.2L936.5 3052.3L936.8 3050.3L937.2 3048.3L937.6 3046.4L937.9 3044.4L938.3 3042.4L938.6 3040.5L939 3038.5L939.3 3036.5L939.6 3034.5L939.9 3032.5L940.1 3030.6L940.4 3028.6L940.7 3026.6L940.9 3024.6L941.1 3022.6L941.3 3020.6L941.5 3018.6L941.7 3016.7L941.9 3014.7L942.1 3012.7L942.4 3010.7L942.6 3008.7L942.9 3006.7L943.1 3004.7L943.4 3002.8L943.7 3000.8L944 2998.8L944.3 2996.8L944.6 2994.9L944.8 2992.9L945.1 2990.9L945.3 2988.9L945.5 2986.9L945.8 2984.9L946 2982.9L946.2 2980.9L946.4 2978.9L946.6 2977L946.8 2975L947.1 2973L947.3 2971L947.6 2969L947.9 2967.1L948.2 2965.1L948.5 2963.1L948.8 2961.1L949.1 2959.2L949.4 2957.2L949.6 2955.2L949.9 2953.2L950.1 2951.2L950.4 2949.2L950.6 2947.2L950.9 2945.3L951.1 2943.3L951.3 2941.3L951.5 2939.3L951.8 2937.3L952 2935.3L952.2 2933.3L952.4 2931.3L952.7 2929.4L953 2927.4L953.3 2925.4L953.7 2923.4L954 2921.5L954.4 2919.5L954.8 2917.6L955.2 2915.6L955.6 2913.6L956 2911.7L956.4 2909.7L956.8 2907.8L957.2 2905.8L957.6 2903.9L958 2901.9L958.3 2899.9L958.7 2898L959 2896L959.3 2894L959.7 2892L960 2890.1L960.4 2888.1L960.8 2886.1L961.1 2884.1L961.5 2882.2L962 2880.2L962.4 2878.3L962.9 2876.4L963.4 2874.4L963.9 2872.5L964.4 2870.5L964.9 2868.6L965.5 2866.7L966 2864.8L966.6 2862.9L967.1 2860.9L967.7 2859L968.3 2857.1L968.9 2855.2L969.6 2853.3L970.2 2851.4L970.9 2849.5L971.6 2847.6L972.3 2845.8L973 2843.9L973.8 2842.1L974.6 2840.2L975.5 2838.4L976.4 2836.6L977.4 2834.8L978.5 2833.1L979.6 2831.5L980.9 2829.9L982.2 2828.4L983.6 2827L985.1 2825.7L986.7 2824.6L988.4 2823.6L990.1 2822.6L991.9 2821.8L993.7 2821L995.6 2820.4L997.5 2819.8L999.4 2819.4L1001.4 2819.1L1003.3 2818.8L1005.3 2818.7L1007.3 2818.5L1009.3 2818.4L1011.3 2818.4L1013.2 2818.4L1015.2 2818.4L1017.2 2818.6L1019.1 2818.9L1021.1 2819.3L1023 2819.8L1024.9 2820.5L1026.8 2821.2L1028.7 2821.9L1030.6 2822.7L1032.4 2823.4L1034.3 2824.2L1036.1 2824.9L1038 2825.7L1039.8 2826.5L1041.7 2827.3L1043.5 2828L1045.4 2828.8L1047.3 2829.5L1049.1 2830.2L1050.9 2830.9L1052.8 2831.6L1054.6 2832.4L1056.4 2833.2L1058.1 2834.2L1059.9 2835.2L1061.6 2836.3L1063.3 2837.4L1065 2838.5L1066.7 2839.6L1068.4 2840.7L1070.1 2841.7L1071.8 2842.7L1073.6 2843.7L1075.3 2844.7L1077.1 2845.7L1078.9 2846.6L1080.7 2847.5L1082.5 2848.3L1084.4 2849.1L1086.2 2849.8L1088.1 2850.3L1090 2850.5L1091.9 2850.3L1093.7 2849.9L1095.4 2849.3L1097 2848.5L1098.5 2847.4L1099.9 2846L1101.1 2844.3L1102.2 2842.5L1103.2 2840.7L1104.1 2838.8L1104.9 2837L1105.7 2835.1L1106.5 2833.3L1107.2 2831.4L1108 2829.5L1108.8 2827.7L1109.7 2825.8L1110.6 2824.1L1111.5 2822.3L1112.6 2820.6L1113.6 2818.9L1114.8 2817.2L1116.1 2815.6L1117.4 2814L1118.9 2812.7L1120.4 2811.6L1122 2810.7L1123.7 2809.8L1125.4 2808.8L1127.1 2807.9L1128.9 2806.9L1130.7 2805.9L1132.4 2805L1134.2 2804.1L1136.1 2803.3L1137.9 2802.5L1139.8 2801.8L1141.7 2801.2L1143.6 2800.7L1145.5 2800.3L1147.5 2800L1149.4 2799.6L1151.4 2799.1L1153.3 2798.7L1155.3 2798.3L1157.2 2797.9L1159.2 2797.5L1161.2 2797.1L1163.1 2796.7L1165.1 2796.4L1167.1 2796L1169 2795.7L1171 2795.3L1173 2795L1174.9 2794.6L1176.9 2794.3L1178.9 2794L1180.9 2793.6L1182.8 2793.3L1184.8 2792.9L1186.8 2792.6L1188.7 2792.2L1190.7 2791.8L1192.7 2791.5L1194.6 2791.1L1196.6 2790.8L1198.6 2790.4L1200.5 2790L1202.5 2789.7L1204.5 2789.3L1206.4 2788.9L1208.4 2788.5L1210.3 2788.1L1212.3 2787.6L1214.2 2787.2L1216.2 2786.7L1218.1 2786.2L1220 2785.7L1222 2785.1L1223.9 2784.6L1225.8 2784.1L1227.7 2783.5L1229.6 2782.9L1231.5 2782.3L1233.4 2781.7L1235.3 2781.1L1237.2 2780.4L1239.1 2779.8L1241 2779.1L1242.9 2778.4L1244.7 2777.7L1246.6 2776.9L1248.5 2776.2L1250.3 2775.4L1252.1 2774.6L1254 2773.8L1255.8 2773L1257.6 2772.2L1259.4 2771.3L1261.2 2770.5L1263.1 2769.6L1264.9 2768.8L1266.6 2767.9L1268.4 2767L1270.2 2766.1L1272 2765.2L1273.7 2764.2L1275.5 2763.3L1277.2 2762.3L1278.9 2761.3L1280.7 2760.2L1282.3 2759.2L1284 2758.1L1285.7 2757L1287.3 2755.8L1289 2754.7L1290.6 2753.5L1292.2 2752.3L1293.7 2751L1295.3 2749.8L1296.9 2748.5L1298.4 2747.3L1300 2746L1301.5 2744.7L1303 2743.4L1304.5 2742.1L1306 2740.7L1307.5 2739.4L1309 2738L1310.5 2736.7L1312 2735.3L1313.5 2734L1315 2732.7L1316.5 2731.4L1318 2730.1L1319.6 2728.8L1321.1 2727.6L1322.7 2726.4L1324.3 2725.1L1325.8 2723.9L1327.4 2722.7L1329 2721.4L1330.5 2720.2L1332.1 2718.9L1333.6 2717.7L1335.1 2716.4L1336.6 2715.2L1338.1 2713.9L1339.5 2712.5L1340.8 2711.1L1342.1 2709.5L1343.4 2707.9L1344.6 2706.3L1345.7 2704.6L1346.8 2702.9L1348 2701.2L1349.1 2699.5L1350.2 2697.9L1351.3 2696.2L1352.5 2694.6L1353.6 2693L1354.7 2691.4L1355.8 2689.7L1356.9 2688L1358 2686.4L1359 2684.6L1360.1 2682.9L1361.1 2681.2L1362 2679.4L1363 2677.7L1364 2675.9L1364.9 2674.1L1365.9 2672.4L1366.8 2670.6L1367.8 2668.9L1368.7 2667.1L1369.6 2665.3L1370.5 2663.5L1371.4 2661.8L1372.3 2660L1373.1 2658.1L1374 2656.3L1374.8 2654.5L1375.6 2652.7L1376.4 2650.8L1377.1 2649L1377.9 2647.1L1378.7 2645.3L1379.4 2643.4L1380.2 2641.6L1381 2639.7L1381.7 2637.9L1382.5 2636L1383.3 2634.2L1384 2632.3L1384.8 2630.5L1385.5 2628.6L1386.3 2626.8L1387 2624.9L1387.7 2623L1388.5 2621.2L1389.2 2619.3L1389.9 2617.5L1390.6 2615.6L1391.2 2613.7L1391.9 2611.8L1392.6 2609.9L1393.2 2608L1393.8 2606.1L1394.4 2604.2L1395 2602.3L1395.6 2600.4L1396.1 2598.5L1396.7 2596.5L1397.2 2594.6L1397.7 2592.7L1398.3 2590.7L1398.8 2588.8L1399.3 2586.9L1399.9 2584.9L1400.4 2583L1401 2581.1L1401.5 2579.2L1402.1 2577.3L1402.7 2575.3L1403.3 2573.4L1403.9 2571.5L1404.6 2569.7L1405.2 2567.8L1405.9 2565.9L1406.5 2564L1407.2 2562.1L1407.8 2560.2L1408.4 2558.3L1409.1 2556.4L1409.7 2554.5L1410.3 2552.6L1410.9 2550.7L1411.4 2548.8L1412 2546.9L1412.5 2544.9L1413 2543L1413.5 2541.1L1414 2539.1L1414.4 2537.2L1414.9 2535.2L1415.3 2533.3L1415.8 2531.3L1416.2 2529.4L1416.6 2527.4L1417.1 2525.5L1417.5 2523.5L1417.9 2521.5L1418.3 2519.6L1418.7 2517.6L1419.1 2515.7L1419.5 2513.7L1419.9 2511.8L1420.3 2509.8L1420.7 2507.8L1421.1 2505.9L1421.5 2503.9L1421.9 2502L1422.3 2500L1422.6 2498L1423 2496.1L1423.3 2494.1L1423.7 2492.1L1424 2490.1L1424.4 2488.2L1424.7 2486.2L1425 2484.2L1425.3 2482.3L1425.7 2480.3L1426 2478.3L1426.3 2476.3L1426.6 2474.4L1426.9 2472.4L1427.2 2470.4L1427.5 2468.4L1427.8 2466.4L1428 2464.5L1428.3 2462.5L1428.6 2460.5L1428.9 2458.5L1429.1 2456.5L1429.4 2454.5L1429.6 2452.6L1429.9 2450.6L1430.1 2448.6L1430.4 2446.6L1430.7 2444.6L1430.9 2442.6L1431.2 2440.7L1431.5 2438.7L1431.8 2436.7L1432.1 2434.7L1432.4 2432.8L1432.7 2430.8L1433.1 2428.8L1433.4 2426.8L1433.7 2424.9L1434.1 2422.9L1434.4 2420.9L1434.7 2419L1435.1 2417L1435.4 2415L1435.7 2413L1436 2411.1L1436.3 2409.1L1436.6 2407.1L1436.9 2405.1L1437.1 2403.1L1437.4 2401.2L1437.7 2399.2L1437.9 2397.2L1438.2 2395.2L1438.4 2393.2L1438.7 2391.2L1439 2389.3L1439.2 2387.3L1439.5 2385.3L1439.7 2383.3L1440 2381.3L1440.2 2379.3L1440.5 2377.4L1440.7 2375.4L1441 2373.4L1441.3 2371.4L1441.5 2369.4L1441.8 2367.4L1442 2365.5L1442.3 2363.5L1442.6 2361.5L1442.8 2359.5L1443.1 2357.5L1443.4 2355.5L1443.7 2353.6L1444 2351.6L1444.3 2349.6L1444.7 2347.6L1445 2345.7L1445.4 2343.7L1445.8 2341.8L1446.1 2339.8L1446.5 2337.8L1446.9 2335.9L1447.2 2333.9L1447.6 2331.9L1447.9 2330L1448.3 2328L1448.6 2326L1448.9 2324L1449.2 2322.1L1449.5 2320.1L1449.8 2318.1L1450.1 2316.1L1450.4 2314.2L1450.7 2312.2L1451 2310.2L1451.4 2308.2L1451.7 2306.2L1452 2304.3L1452.3 2302.3L1452.7 2300.3L1453 2298.3L1453.4 2296.4L1453.7 2294.4L1454.1 2292.5L1454.4 2290.5L1454.7 2288.6L1455 2286.6L1455.3 2284.6L1455.5 2282.6L1455.8 2280.6L1456.1 2278.6L1456.3 2276.6L1456.6 2274.7L1456.9 2272.7L1457.2 2270.7L1457.5 2268.8L1457.7 2266.8L1457.9 2264.8L1458.1 2262.8L1458.3 2260.8L1458.5 2258.8L1458.6 2256.8L1458.7 2254.8L1458.8 2252.8L1458.9 2250.8L1459 2248.8L1459.1 2246.8L1459.2 2244.8L1459.3 2242.8L1459.4 2240.8L1459.5 2238.8L1459.5 2236.8L1459.6 2234.8L1459.7 2232.8L1459.8 2230.8L1459.9 2228.8L1460 2226.8L1460.2 2224.8L1460.3 2222.8L1460.4 2220.8L1460.6 2218.9L1460.7 2216.9L1460.8 2214.9L1461 2212.9L1461.1 2210.9L1461.2 2208.9L1461.4 2206.9L1461.5 2204.9L1461.6 2202.9L1461.7 2200.9L1461.8 2198.9L1461.9 2196.9L1462 2194.9L1462.1 2192.9L1462.2 2190.9L1462.3 2188.9L1462.3 2186.9L1462.4 2184.9L1462.5 2182.9L1462.5 2180.9L1462.6 2178.9L1462.6 2176.9L1462.7 2174.9L1462.8 2172.9L1462.9 2170.9L1462.9 2168.9L1463 2166.9L1463.1 2164.9L1463.2 2162.9L1463.3 2160.9L1463.4 2158.9L1463.5 2156.9L1463.6 2154.9L1463.7 2152.9L1463.9 2150.9L1464 2148.9L1464.1 2146.9L1464.2 2145L1464.3 2143L1464.4 2141L1464.5 2139L1464.6 2137L1464.7 2135L1464.8 2133L1464.9 2131L1465 2129L1465.1 2127L1465.2 2125L1465.3 2123L1465.4 2121L1465.4 2119L1465.5 2117L1465.6 2115L1465.7 2113L1465.7 2111L1465.8 2109L1465.9 2107L1466 2105L1466 2103L1466.1 2101L1466.2 2099L1466.2 2097L1466.3 2095L1466.4 2093L1466.4 2091L1466.5 2089L1466.5 2087L1466.6 2085L1466.6 2083L1466.7 2081L1466.7 2079L1466.8 2077L1466.9 2075L1466.9 2073L1467 2071L1467 2069L1467.1 2067L1467.2 2065L1467.2 2063L1467.3 2061L1467.4 2059L1467.5 2057L1467.6 2055L1467.7 2053L1467.8 2051L1467.9 2049L1468 2047L1468.2 2045L1468.3 2043L1468.4 2041L1468.5 2039L1468.6 2037.1L1468.7 2035.1L1468.8 2033.1L1468.9 2031.1L1469 2029.1L1469.1 2027.1L1469.1 2025.1L1469.2 2023.1L1469.2 2021.1L1469.3 2019.1L1469.4 2017.1L1469.4 2015.1L1469.5 2013.1L1469.6 2011.1L1469.7 2009.1L1469.8 2007.1L1470 2005.1L1470.1 2003.1L1470.3 2001.1L1470.5 1999.1L1470.8 1997.1L1471.1 1995.1L1471.4 1993.2L1471.7 1991.2L1472.1 1989.2L1472.5 1987.3L1473 1985.3L1473.5 1983.4L1473.9 1982.5L1474.4 1984.4L1474.8 1986.3L1475.2 1988.3L1475.6 1990.3L1475.8 1992.3L1476.1 1994.3L1476.3 1996.3L1476.4 1998.3L1476.6 2000.3L1476.7 2002.3L1476.8 2004.3L1476.9 2006.3L1477 2008.3L1477.1 2010.2L1477.2 2012.2L1477.3 2014.2L1477.4 2016.2L1477.5 2018.2L1477.7 2020.2L1477.8 2022.2L1477.9 2024.2L1478 2026.2L1478.2 2028.2L1478.3 2030.2L1478.4 2032.2L1478.5 2034.2L1478.7 2036.2L1478.8 2038.2L1478.9 2040.2L1479 2042.2L1479.1 2044.2L1479.2 2046.2L1479.3 2048.2L1479.4 2050.2L1479.5 2052.2L1479.6 2054.2L1479.7 2056.2L1479.8 2058.2L1479.9 2060.2L1480 2062.2L1480.1 2064.2L1480.1 2066.2L1480.2 2068.2L1480.3 2070.2L1480.3 2072.2L1480.4 2074.2L1480.5 2076.2L1480.5 2078.2L1480.6 2080.2L1480.6 2082.2L1480.7 2084.2L1480.7 2086.1L1480.8 2088.1L1480.9 2090.1L1480.9 2092.1L1481 2094.1L1481 2096.1L1481.1 2098.1L1481.2 2100.1L1481.2 2102.1L1481.3 2104.1L1481.3 2106.1L1481.4 2108.1L1481.5 2110.1L1481.5 2112.1L1481.6 2114.1L1481.6 2116.1L1481.7 2118.1L1481.8 2120.1L1481.8 2122.1L1481.9 2124.1L1481.9 2126.1L1482 2128.1L1482.1 2130.1L1482.1 2132.1L1482.2 2134.1L1482.2 2136.1L1482.3 2138.1L1482.3 2140.1L1482.4 2142.1L1482.5 2144.1L1482.5 2146.1L1482.6 2148.1L1482.6 2150.1L1482.7 2152.1L1482.7 2154.1L1482.8 2156.1L1482.8 2158.1L1482.9 2160.1L1482.9 2162.1L1483 2164.1L1483 2166.1L1483.1 2168.1L1483.2 2170.1L1483.2 2172.1L1483.3 2174.1L1483.3 2176.1L1483.4 2178.1L1483.4 2180.1L1483.5 2182.1L1483.5 2184.1L1483.6 2186.1L1483.6 2188.1L1483.7 2190.1L1483.7 2192.1L1483.8 2194.1L1483.8 2196.1L1483.9 2198.1L1484 2200.1L1484 2202.1L1484.1 2204.1L1484.1 2206.1L1484.2 2208.1L1484.3 2210.1L1484.4 2212.1L1484.4 2214.1L1484.5 2216.1L1484.6 2218.1L1484.6 2220.1L1484.7 2222.1L1484.8 2224.1L1484.9 2226.1L1484.9 2228.1L1485 2230.1L1485.1 2232.1L1485.1 2234.1L1485.2 2236.1L1485.3 2238.1L1485.3 2240.1L1485.4 2242.1L1485.4 2244.1L1485.5 2246.1L1485.5 2248.1L1485.6 2250.1L1485.6 2252.1L1485.7 2254.1L1485.8 2256.1L1485.8 2258.1L1485.9 2260.1L1485.9 2262.1L1485.9 2264.1L1486 2266.1L1486 2268.1L1486.1 2270.1L1486.1 2272.1L1486.2 2274.1L1486.2 2276.1L1486.3 2278.1L1486.3 2280.1L1486.3 2282.1L1486.4 2284.1L1486.4 2286.1L1486.4 2288.1L1486.5 2290.1L1486.5 2292.1L1486.5 2294.1L1486.6 2296.1L1486.6 2298.1L1486.6 2300.1L1486.7 2302.1L1486.7 2304.1L1486.7 2306.1L1486.8 2308.1L1486.8 2310.1L1486.8 2312.1L1486.9 2314.1L1486.9 2316.1L1487 2318.1L1487 2320.1L1487.1 2322.1L1487.1 2324.1L1487.2 2326.1L1487.3 2328.1L1487.3 2330.1L1487.4 2332.1L1487.4 2334.1L1487.5 2336.1L1487.6 2338.1L1487.6 2340.1L1487.7 2342.1L1487.7 2344.1L1487.8 2346L1487.9 2348L1487.9 2350L1488 2352L1488 2354L1488.1 2356L1488.1 2358L1488.2 2360L1488.2 2362L1488.3 2364L1488.3 2366L1488.4 2368L1488.4 2370L1488.5 2372L1488.5 2374L1488.6 2376L1488.6 2378L1488.7 2380L1488.7 2382L1488.8 2384L1488.8 2386L1488.9 2388L1488.9 2390L1489 2392L1489 2394L1489.1 2396L1489.1 2398L1489.2 2400L1489.2 2402L1489.3 2404L1489.3 2406L1489.3 2408L1489.4 2410L1489.4 2412L1489.5 2414L1489.5 2416L1489.6 2418L1489.6 2420L1489.6 2422L1489.7 2424L1489.7 2426L1489.8 2428L1489.8 2430L1489.8 2432L1489.9 2434L1489.9 2436L1489.9 2438L1490 2440L1490 2442L1490 2444L1490 2446L1490.1 2448L1490.1 2450L1490.1 2452L1490.1 2454L1490.2 2456L1490.2 2458L1490.2 2460L1490.3 2462L1490.3 2464L1490.3 2466L1490.4 2468L1490.4 2470L1490.4 2472L1490.5 2474L1490.5 2476L1490.6 2478L1490.6 2480L1490.7 2482L1490.7 2484L1490.7 2486L1490.8 2488L1490.8 2490L1490.9 2492L1490.9 2494L1491 2496L1491.1 2498L1491.1 2500L1491.2 2502L1491.2 2504L1491.3 2506L1491.4 2508L1491.4 2510L1491.5 2512L1491.6 2514L1491.6 2516L1491.7 2518L1491.8 2520L1491.9 2522L1491.9 2524L1492 2526L1492.1 2528L1492.2 2530L1492.3 2532L1492.4 2534L1492.5 2536L1492.6 2538L1492.7 2540L1492.8 2542L1492.9 2544L1492.9 2546L1493 2548L1493.1 2550L1493.2 2552L1493.3 2554L1493.3 2556L1493.4 2558L1493.5 2560L1493.6 2562L1493.6 2564L1493.7 2566L1493.8 2568L1493.9 2570L1494 2572L1494.1 2574L1494.2 2575.9L1494.3 2577.9L1494.4 2579.9L1494.5 2581.9L1494.6 2583.9L1494.7 2585.9L1494.8 2587.9L1495 2589.9L1495.1 2591.9L1495.2 2593.9L1495.4 2595.9L1495.5 2597.9L1495.6 2599.9L1495.8 2601.9L1495.9 2603.9L1496 2605.9L1496.2 2607.9L1496.3 2609.9L1496.5 2611.9L1496.6 2613.9L1496.8 2615.9L1496.9 2617.9L1497.1 2619.9L1497.3 2621.8L1497.5 2623.8L1497.7 2625.8L1497.9 2627.8L1498.1 2629.8L1498.4 2631.8L1498.6 2633.8L1498.9 2635.7L1499.2 2637.7L1499.4 2639.7L1499.7 2641.7L1500 2643.7L1500.3 2645.6L1500.6 2647.6L1500.9 2649.6L1501.2 2651.6L1501.5 2653.6L1501.9 2655.5L1502.2 2657.5L1502.6 2659.5L1503 2661.4L1503.4 2663.4L1503.9 2665.3L1504.4 2667.3L1504.9 2669.2L1505.4 2671.2L1506.1 2673.1L1506.7 2675L1507.4 2676.8L1508.2 2678.7L1509.1 2680.5L1510 2682.3L1511.1 2684L1512.2 2685.7L1513.4 2687.3L1514.7 2688.8L1516.1 2690.2L1517.6 2691.4L1519.1 2692.6L1520.7 2693.8L1522.3 2694.9L1524 2695.9L1525.7 2696.9L1527.4 2697.9L1529.1 2698.9L1530.9 2699.8L1532.7 2700.7L1534.4 2701.7L1536.2 2702.6L1538 2703.5L1539.8 2704.4L1541.5 2705.3L1543.3 2706.2L1545.1 2707.1L1546.9 2708L1548.8 2708.8L1550.6 2709.6L1552.4 2710.4L1554.3 2711.2L1556.1 2712L1558 2712.7L1559.8 2713.5L1561.7 2714.2L1563.6 2714.8L1565.5 2715.5L1567.4 2716.1L1569.3 2716.7L1571.2 2717.2L1573.1 2717.8L1575 2718.3L1577 2718.8L1578.9 2719.3L1580.8 2719.7L1582.8 2720.2L1584.7 2720.7L1586.6 2721.2L1588.6 2721.8L1590.5 2722.3L1592.4 2722.9L1594.3 2723.5L1596.2 2724.1L1598.2 2724.7L1600.1 2725.2L1602 2725.8L1603.9 2726.4L1605.9 2726.9L1607.8 2727.5L1609.7 2728L1611.7 2728.4L1613.6 2728.8L1615.6 2729.2L1617.6 2729.5L1619.5 2729.8L1621.5 2730.1L1623.5 2730.3L1625.5 2730.6L1627.4 2730.8L1629.4 2731L1631.4 2731.3L1633.4 2731.6L1635.3 2732L1637.3 2732.4L1639.2 2732.8L1641.2 2733.3L1643.1 2733.9L1645 2734.5L1646.9 2735L1648.9 2735.7L1650.8 2736.3L1652.7 2736.9L1654.6 2737.5L1656.5 2738.1L1658.4 2738.7L1660.3 2739.3L1662.2 2739.9L1664.2 2740.4L1666.1 2740.9L1668 2741.4L1670 2741.9L1671.9 2742.4L1673.8 2742.9L1675.8 2743.4L1677.7 2743.9L1679.6 2744.4L1681.6 2744.9L1683.5 2745.4L1685.4 2746L1687.3 2746.5L1689.2 2747.1L1691.2 2747.7L1693.1 2748.3L1695 2749L1696.9 2749.6L1698.8 2750.2L1700.7 2750.8L1702.7 2751.2L1704.6 2751.7L1706.6 2752L1708.6 2752.3L1710.5 2752.5L1712.5 2752.7L1714.5 2752.9L1716.5 2753L1718.5 2753.2L1720.5 2753.3L1722.5 2753.5L1724.5 2753.6L1726.5 2753.9L1728.4 2754.1L1730.4 2754.4L1732.4 2754.6L1734.4 2754.9L1736.4 2755.2L1738.4 2755.5L1740.3 2755.8L1742.3 2756.1L1744.3 2756.4L1746.3 2756.6L1748.3 2756.8L1750.3 2757L1752.2 2757.2L1754.2 2757.4L1756.2 2757.6L1758.2 2757.7L1760.2 2757.8L1762.2 2758L1764.2 2758.1L1766.2 2758.2L1768.2 2758.2L1770.2 2758.3L1772.2 2758.3L1774.2 2758.2L1776.2 2758.1L1778.2 2757.9L1780.2 2757.8L1782.2 2757.6L1784.2 2757.4L1786.2 2757.4L1788.1 2757.4L1790.1 2757.6L1792.1 2757.9L1794 2758.4L1795.9 2759L1797.8 2759.6L1799.8 2760.3L1801.7 2761L1803.6 2761.6L1805.5 2762.2L1807.5 2762.7L1809.4 2763.1L1811.4 2763.4L1813.3 2763.6L1815.3 2763.8L1817.3 2763.9L1819.3 2764.1L1821.3 2764.2L1823.3 2764.3L1825.3 2764.5L1827.3 2764.7L1829.2 2764.9L1831.2 2765.2L1833.2 2765.5L1835.2 2765.8L1837.2 2766.1L1839.1 2766.4L1841.1 2766.8L1843.1 2767.2L1845.1 2767.5L1847 2767.9L1849 2768.2L1851 2768.5L1852.9 2768.8L1854.9 2769.1L1856.9 2769.4L1858.9 2769.6L1860.9 2769.9L1862.9 2770.1L1864.8 2770.4L1866.8 2770.6L1868.8 2770.9L1870.8 2771.1L1872.8 2771.4L1874.8 2771.7L1876.7 2771.9L1878.7 2772.2L1880.7 2772.4L1882.7 2772.7L1884.7 2773L1886.7 2773.2L1888.6 2773.5L1890.6 2773.7L1892.6 2774L1894.6 2774.3L1896.6 2774.5L1898.5 2774.8L1900.5 2775.1L1902.5 2775.3L1904.5 2775.6L1906.5 2775.8L1908.5 2776.1L1910.4 2776.4L1912.4 2776.7L1914.4 2776.9L1916.4 2777.2L1918.4 2777.5L1920.4 2777.8L1922.3 2778L1924.3 2778.2L1926.3 2778.5L1928.3 2778.7L1930.3 2778.9L1932.2 2779.2L1934.2 2779.5L1936.2 2779.8L1938.1 2780.1L1940.1 2780.5L1942 2781L1943.9 2781.5L1945.8 2782.2L1947.7 2782.9L1949.6 2783.6L1951.5 2784.4L1953.3 2785.2L1955.2 2786L1957.1 2786.8L1958.9 2787.5L1960.8 2788.2L1962.8 2788.7L1964.7 2789.2L1966.6 2789.5L1968.6 2789.7L1970.6 2789.9L1972.6 2789.9L1974.6 2790L1976.6 2790L1978.6 2790L1980.5 2790L1982.5 2790.1L1984.5 2790.3L1986.5 2790.5L1988.5 2790.9L1990.4 2791.3L1992.4 2791.8L1994.3 2792.3L1996.3 2792.8L1998.2 2793.3L2000.2 2793.8L2002.1 2794.4L2004.1 2794.8L2006 2795.3L2008 2795.6L2009.9 2795.9L2011.9 2796.1L2013.9 2796.2L2015.9 2796.3L2017.9 2796.3L2019.9 2796.3L2021.9 2796.4L2023.9 2796.5L2025.9 2796.6L2027.8 2796.8L2029.8 2797.1L2031.7 2797.5L2033.7 2798L2035.6 2798.6L2037.5 2799.2L2039.4 2799.9L2041.3 2800.6L2043.2 2801.3L2045.1 2802.1L2047 2802.8L2048.9 2803.4L2050.8 2804L2052.7 2804.5L2054.7 2804.9L2056.6 2805.2L2058.6 2805.5L2060.6 2805.8L2062.5 2806L2064.5 2806.2L2066.5 2806.3L2068.5 2806.6L2070.5 2806.8L2072.4 2807.1L2074.4 2807.4L2076.4 2807.8L2078.3 2808.3L2080.3 2808.7L2082.2 2809.2L2084.1 2809.8L2086.1 2810.3L2088 2810.8L2089.9 2811.4L2091.8 2811.9L2093.8 2812.5L2095.7 2813.1L2097.6 2813.6L2099.5 2814.2L2101.4 2814.8L2103.3 2815.5L2105.3 2816.1L2107.2 2816.7L2109.1 2817.2L2111.1 2817.7L2113 2818L2114.8 2818.2L2116.6 2818.3L2118.3 2818.4L2119.8 2818.4L2121.1 2818.5" stroke="#000" stroke-width="2" fill="none" stroke-linejoin="round"/>
<path d="M563 2761h10v10h-10zM564 2764h10v10h-10zM565 2766h10v10h-10zM567 2767h10v10h-10zM568 2768h10v10h-10zM569 2770h10v10h-10zM570 2771h10v10h-10zM571 2772h10v10h-10zM572 2772h10v10h-10zM573 2773h10v10h-10zM574 2774h10v10h-10zM575 2775h10v10h-10zM576 2776h10v10h-10zM578 2776h10v10h-10zM579 2777h10v10h-10zM580 2778h10v10h-10zM581 2778h10v10h-10zM582 2779h10v10h-10zM583 2780h10v10h-10zM584 2780h10v10h-10zM585 2781h10v10h-10zM586 2782h10v10h-10zM587 2782h10v10h-10zM589 2783h10v10h-10zM590 2784h10v10h-10zM591 2784h10v10h-10zM592 2785h10v10h-10zM593 2786h10v10h-10zM594 2786h10v10h-10zM595 2787h10v10h-10zM596 2788h10v10h-10zM597 2789h10v10h-10zM598 2789h10v10h-10zM600 2790h10v10h-10zM601 2791h10v10h-10zM602 2792h10v10h-10zM603 2793h10v10h-10zM604 2794h10v10h-10zM605 2794h10v10h-10zM606 2795h10v10h-10zM607 2796h10v10h-10zM608 2797h10v10h-10zM609 2798h10v10h-10zM611 2798h10v10h-10zM612 2799h10v10h-10zM613 2800h10v10h-10zM614 2801h10v10h-10zM615 2801h10v10h-10zM616 2802h10v10h-10zM617 2803h10v10h-10zM618 2803h10v10h-10zM619 2804h10v10h-10zM620 2805h10v10h-10zM622 2805h10v10h-10zM623 2806h10v10h-10zM624 2806h10v10h-10zM625 2807h10v10h-10zM626 2808h10v10h-10zM627 2808h10v10h-10zM628 2809h10v10h-10zM629 2809h10v10h-10zM630 2810h10v10h-10zM631 2811h10v10h-10zM633 2811h10v10h-10zM634 2812h10v10h-10zM635 2812h10v10h-10zM636 2813h10v10h-10zM637 2814h10v10h-10zM638 2814h10v10h-10zM639 2815h10v10h-10zM640 2815h10v10h-10zM641 2816h10v10h-10zM642 2816h10v10h-10zM644 2817h10v10h-10zM645 2817h10v10h-10zM646 2818h10v10h-10zM647 2819h10v10h-10zM648 2819h10v10h-10zM649 2820h10v10h-10zM650 2820h10v10h-10zM651 2821h10v10h-10zM652 2821h10v10h-10zM653 2822h10v10h-10zM655 2823h10v10h-10zM656 2823h10v10h-10zM657 2824h10v10h-10zM658 2824h10v10h-10zM659 2825h10v10h-10zM660 2825h10v10h-10zM661 2826h10v10h-10zM662 2826h10v10h-10zM663 2827h10v10h-10zM664 2827h10v10h-10zM666 2828h10v10h-10zM667 2828h10v10h-10zM668 2829h10v10h-10zM669 2829h10v10h-10zM670 2830h10v10h-10zM671 2830h10v10h-10zM672 2831h10v10h-10zM673 2831h10v10h-10zM674 2831h10v10h-10zM675 2832h10v10h-10zM677 2832h10v10h-10zM678 2833h10v10h-10zM679 2833h10v10h-10zM680 2833h10v10h-10zM681 2833h10v10h-10zM682 2834h10v10h-10zM683 2834h10v10h-10zM684 2834h10v10h-10zM685 2835h10v10h-10zM686 2835h10v10h-10zM688 2835h10v10h-10zM689 2835h10v10h-10zM690 2836h10v10h-10zM691 2836h10v10h-10zM692 2836h10v10h-10zM693 2836h10v10h-10zM694 2836h10v10h-10zM695 2837h10v10h-10zM696 2837h10v10h-10zM697 2837h10v10h-10zM699 2837h10v10h-10zM700 2838h10v10h-10zM701 2838h10v10h-10zM702 2838h10v10h-10zM703 2838h10v10h-10zM704 2839h10v10h-10zM705 2839h10v10h-10zM706 2839h10v10h-10zM707 2839h10v10h-10zM708 2839h10v10h-10zM710 2840h10v10h-10zM711 2840h10v10h-10zM712 2840h10v10h-10zM713 2840h10v10h-10zM714 2840h10v10h-10zM715 2840h10v10h-10zM716 2840h10v10h-10zM717 2840h10v10h-10zM718 2840h10v10h-10zM719 2840h10v10h-10zM721 2840h10v10h-10zM722 2840h10v10h-10zM723 2840h10v10h-10zM724 2840h10v10h-10zM725 2840h10v10h-10zM726 2840h10v10h-10zM727 2840h10v10h-10zM728 2840h10v10h-10zM729 2839h10v10h-10zM730 2839h10v10h-10zM732 2839h10v10h-10zM733 2839h10v10h-10zM734 2839h10v10h-10zM735 2839h10v10h-10zM736 2839h10v10h-10zM737 2839h10v10h-10zM738 2839h10v10h-10zM739 2839h10v10h-10zM740 2839h10v10h-10zM741 2839h10v10h-10zM743 2838h10v10h-10zM744 2838h10v10h-10zM745 2838h10v10h-10zM746 2838h10v10h-10zM747 2838h10v10h-10zM748 2838h10v10h-10zM749 2838h10v10h-10zM750 2838h10v10h-10zM751 2838h10v10h-10zM752 2838h10v10h-10zM754 2838h10v10h-10zM755 2838h10v10h-10zM756 2837h10v10h-10zM757 2837h10v10h-10zM758 2837h10v10h-10zM759 2837h10v10h-10zM760 2837h10v10h-10zM761 2837h10v10h-10zM762 2837h10v10h-10zM763 2837h10v10h-10zM765 2837h10v10h-10zM766 2837h10v10h-10zM767 2837h10v10h-10zM768 2836h10v10h-10zM769 2836h10v10h-10zM770 2836h10v10h-10zM771 2836h10v10h-10zM772 2836h10v10h-10zM773 2836h10v10h-10zM774 2836h10v10h-10zM776 2836h10v10h-10zM777 2836h10v10h-10zM778 2836h10v10h-10zM779 2836h10v10h-10zM780 2836h10v10h-10zM781 2836h10v10h-10zM782 2836h10v10h-10zM783 2836h10v10h-10zM784 2836h10v10h-10zM785 2836h10v10h-10zM787 2836h10v10h-10zM788 2836h10v10h-10zM789 2836h10v10h-10zM790 2836h10v10h-10zM791 2836h10v10h-10zM792 2837h10v10h-10zM793 2837h10v10h-10zM794 2837h10v10h-10zM795 2837h10v10h-10zM796 2837h10v10h-10zM798 2837h10v10h-10zM799 2838h10v10h-10zM800 2838h10v10h-10zM801 2838h10v10h-10zM802 2838h10v10h-10zM803 2839h10v10h-10zM804 2839h10v10h-10zM805 2840h10v10h-10zM806 2840h10v10h-10zM807 2841h10v10h-10zM809 2841h10v10h-10zM810 2842h10v10h-10zM811 2842h10v10h-10zM812 2843h10v10h-10zM813 2844h10v10h-10zM814 2845h10v10h-10zM815 2846h10v10h-10zM816 2848h10v10h-10zM817 2849h10v10h-10zM818 2851h10v10h-10zM820 2853h10v10h-10zM821 2855h10v10h-10zM822 2857h10v10h-10zM823 2860h10v10h-10zM824 2862h10v10h-10zM825 2865h10v10h-10zM826 2868h10v10h-10zM827 2871h10v10h-10zM828 2875h10v10h-10zM829 2878h10v10h-10zM831 2882h10v10h-10zM832 2885h10v10h-10zM833 2888h10v10h-10zM834 2890h10v10h-10zM835 2891h10v10h-10zM836 2892h10v10h-10zM837 2893h10v10h-10zM838 2893h10v10h-10zM839 2893h10v10h-10zM840 2893h10v10h-10zM842 2893h10v10h-10zM843 2894h10v10h-10zM844 2894h10v10h-10zM845 2894h10v10h-10zM846 2895h10v10h-10zM847 2895h10v10h-10zM848 2896h10v10h-10zM849 2896h10v10h-10zM850 2897h10v10h-10zM851 2897h10v10h-10zM853 2898h10v10h-10zM854 2899h10v10h-10zM855 2900h10v10h-10zM856 2901h10v10h-10zM857 2902h10v10h-10zM858 2904h10v10h-10zM859 2905h10v10h-10zM860 2907h10v10h-10zM861 2909h10v10h-10zM862 2911h10v10h-10zM864 2913h10v10h-10zM865 2915h10v10h-10zM866 2918h10v10h-10zM867 2921h10v10h-10zM868 2924h10v10h-10zM869 2927h10v10h-10zM870 2930h10v10h-10zM871 2933h10v10h-10zM872 2936h10v10h-10zM873 2940h10v10h-10zM875 2944h10v10h-10zM876 2949h10v10h-10zM877 2953h10v10h-10zM878 2958h10v10h-10zM879 2962h10v10h-10zM880 2967h10v10h-10zM881 2972h10v10h-10zM882 2979h10v10h-10zM883 2986h10v10h-10zM884 2994h10v10h-10zM886 3001h10v10h-10zM887 3009h10v10h-10zM888 3016h10v10h-10zM889 3024h10v10h-10zM890 3031h10v10h-10zM891 3038h10v10h-10zM892 3044h10v10h-10zM893 3050h10v10h-10zM894 3055h10v10h-10zM895 3061h10v10h-10zM897 3066h10v10h-10zM898 3071h10v10h-10zM899 3076h10v10h-10zM900 3081h10v10h-10zM901 3085h10v10h-10zM902 3088h10v10h-10zM903 3091h10v10h-10zM904 3094h10v10h-10zM905 3096h10v10h-10zM906 3098h10v10h-10zM908 3100h10v10h-10zM909 3101h10v10h-10zM910 3102h10v10h-10zM911 3102h10v10h-10zM912 3102h10v10h-10zM913 3102h10v10h-10zM914 3101h10v10h-10zM915 3100h10v10h-10zM916 3099h10v10h-10zM917 3097h10v10h-10zM919 3096h10v10h-10zM920 3093h10v10h-10zM921 3091h10v10h-10zM922 3087h10v10h-10zM923 3083h10v10h-10zM924 3079h10v10h-10zM925 3074h10v10h-10zM926 3068h10v10h-10zM927 3064h10v10h-10zM928 3060h10v10h-10zM930 3056h10v10h-10zM931 3051h10v10h-10zM932 3046h10v10h-10zM933 3040h10v10h-10zM934 3033h10v10h-10zM935 3026h10v10h-10zM936 3017h10v10h-10zM937 3006h10v10h-10zM938 2998h10v10h-10zM939 2990h10v10h-10zM941 2981h10v10h-10zM942 2971h10v10h-10zM943 2963h10v10h-10zM944 2955h10v10h-10zM945 2947h10v10h-10zM946 2938h10v10h-10zM947 2928h10v10h-10zM948 2921h10v10h-10zM949 2915h10v10h-10zM950 2909h10v10h-10zM952 2904h10v10h-10zM953 2898h10v10h-10zM954 2892h10v10h-10zM955 2886h10v10h-10zM956 2880h10v10h-10zM957 2875h10v10h-10zM958 2870h10v10h-10zM959 2866h10v10h-10zM960 2862h10v10h-10zM961 2858h10v10h-10zM963 2854h10v10h-10zM964 2851h10v10h-10zM965 2848h10v10h-10zM966 2844h10v10h-10zM967 2841h10v10h-10zM968 2839h10v10h-10zM969 2836h10v10h-10zM970 2834h10v10h-10zM971 2832h10v10h-10zM972 2830h10v10h-10zM974 2828h10v10h-10zM975 2826h10v10h-10zM976 2825h10v10h-10zM977 2824h10v10h-10zM978 2823h10v10h-10zM979 2822h10v10h-10zM980 2821h10v10h-10zM981 2820h10v10h-10zM982 2819h10v10h-10zM983 2818h10v10h-10zM985 2818h10v10h-10zM986 2817h10v10h-10zM987 2817h10v10h-10zM988 2816h10v10h-10zM989 2816h10v10h-10zM990 2816h10v10h-10zM991 2815h10v10h-10zM992 2815h10v10h-10zM993 2815h10v10h-10zM994 2814h10v10h-10zM996 2814h10v10h-10zM997 2814h10v10h-10zM998 2814h10v10h-10zM999 2814h10v10h-10zM1000 2814h10v10h-10zM1001 2814h10v10h-10zM1002 2814h10v10h-10zM1003 2813h10v10h-10zM1004 2813h10v10h-10zM1005 2813h10v10h-10zM1007 2813h10v10h-10zM1008 2813h10v10h-10zM1009 2813h10v10h-10zM1010 2813h10v10h-10zM1011 2813h10v10h-10zM1012 2814h10v10h-10zM1013 2814h10v10h-10zM1014 2814h10v10h-10zM1015 2814h10v10h-10zM1016 2814h10v10h-10zM1018 2815h10v10h-10zM1019 2815h10v10h-10zM1020 2815h10v10h-10zM1021 2816h10v10h-10zM1022 2816h10v10h-10zM1023 2817h10v10h-10zM1024 2817h10v10h-10zM1025 2818h10v10h-10zM1026 2818h10v10h-10zM1027 2818h10v10h-10zM1029 2819h10v10h-10zM1030 2819h10v10h-10zM1031 2820h10v10h-10zM1032 2820h10v10h-10zM1033 2821h10v10h-10zM1034 2821h10v10h-10zM1035 2822h10v10h-10zM1036 2822h10v10h-10zM1037 2823h10v10h-10zM1038 2823h10v10h-10zM1040 2823h10v10h-10zM1041 2824h10v10h-10zM1042 2824h10v10h-10zM1043 2825h10v10h-10zM1044 2825h10v10h-10zM1045 2826h10v10h-10zM1046 2826h10v10h-10zM1047 2826h10v10h-10zM1048 2827h10v10h-10zM1049 2827h10v10h-10zM1051 2828h10v10h-10zM1052 2828h10v10h-10zM1053 2829h10v10h-10zM1054 2830h10v10h-10zM1055 2830h10v10h-10zM1056 2831h10v10h-10zM1057 2832h10v10h-10zM1058 2832h10v10h-10zM1059 2833h10v10h-10zM1060 2834h10v10h-10zM1062 2835h10v10h-10zM1063 2835h10v10h-10zM1064 2836h10v10h-10zM1065 2837h10v10h-10zM1066 2837h10v10h-10zM1067 2838h10v10h-10zM1068 2839h10v10h-10zM1069 2839h10v10h-10zM1070 2840h10v10h-10zM1071 2840h10v10h-10zM1073 2841h10v10h-10zM1074 2842h10v10h-10zM1075 2842h10v10h-10zM1076 2843h10v10h-10zM1077 2843h10v10h-10zM1078 2844h10v10h-10zM1079 2844h10v10h-10zM1080 2844h10v10h-10zM1081 2845h10v10h-10zM1082 2845h10v10h-10zM1084 2845h10v10h-10zM1085 2845h10v10h-10zM1086 2845h10v10h-10zM1087 2845h10v10h-10zM1088 2845h10v10h-10zM1089 2845h10v10h-10zM1090 2844h10v10h-10zM1091 2844h10v10h-10zM1092 2843h10v10h-10zM1093 2842h10v10h-10zM1095 2841h10v10h-10zM1096 2840h10v10h-10zM1097 2838h10v10h-10zM1098 2836h10v10h-10zM1099 2834h10v10h-10zM1100 2832h10v10h-10zM1101 2829h10v10h-10zM1102 2826h10v10h-10zM1103 2824h10v10h-10zM1104 2821h10v10h-10zM1106 2819h10v10h-10zM1107 2817h10v10h-10zM1108 2815h10v10h-10zM1109 2813h10v10h-10zM1110 2812h10v10h-10zM1111 2811h10v10h-10zM1112 2809h10v10h-10zM1113 2808h10v10h-10zM1114 2807h10v10h-10zM1115 2807h10v10h-10zM1117 2806h10v10h-10zM1118 2805h10v10h-10zM1119 2805h10v10h-10zM1120 2804h10v10h-10zM1121 2803h10v10h-10zM1122 2803h10v10h-10zM1123 2802h10v10h-10zM1124 2802h10v10h-10zM1125 2801h10v10h-10zM1126 2801h10v10h-10zM1128 2800h10v10h-10zM1129 2799h10v10h-10zM1130 2799h10v10h-10zM1131 2798h10v10h-10zM1132 2798h10v10h-10zM1133 2797h10v10h-10zM1134 2797h10v10h-10zM1135 2797h10v10h-10zM1136 2796h10v10h-10zM1137 2796h10v10h-10zM1139 2796h10v10h-10zM1140 2795h10v10h-10zM1141 2795h10v10h-10zM1142 2795h10v10h-10zM1143 2795h10v10h-10zM1144 2795h10v10h-10zM1145 2794h10v10h-10zM1146 2794h10v10h-10zM1147 2794h10v10h-10zM1148 2794h10v10h-10zM1150 2793h10v10h-10zM1151 2793h10v10h-10zM1152 2793h10v10h-10zM1153 2793h10v10h-10zM1154 2793h10v10h-10zM1155 2792h10v10h-10zM1156 2792h10v10h-10zM1157 2792h10v10h-10zM1158 2792h10v10h-10zM1159 2791h10v10h-10zM1161 2791h10v10h-10zM1162 2791h10v10h-10zM1163 2791h10v10h-10zM1164 2791h10v10h-10zM1165 2791h10v10h-10zM1166 2790h10v10h-10zM1167 2790h10v10h-10zM1168 2790h10v10h-10zM1169 2790h10v10h-10zM1170 2790h10v10h-10zM1172 2789h10v10h-10zM1173 2789h10v10h-10zM1174 2789h10v10h-10zM1175 2789h10v10h-10zM1176 2789h10v10h-10zM1177 2788h10v10h-10zM1178 2788h10v10h-10zM1179 2788h10v10h-10zM1180 2788h10v10h-10zM1181 2788h10v10h-10zM1183 2787h10v10h-10zM1184 2787h10v10h-10zM1185 2787h10v10h-10zM1186 2787h10v10h-10zM1187 2787h10v10h-10zM1188 2786h10v10h-10zM1189 2786h10v10h-10zM1190 2786h10v10h-10zM1191 2786h10v10h-10zM1192 2786h10v10h-10zM1194 2785h10v10h-10zM1195 2785h10v10h-10zM1196 2785h10v10h-10zM1197 2785h10v10h-10zM1198 2785h10v10h-10zM1199 2784h10v10h-10zM1200 2784h10v10h-10zM1201 2784h10v10h-10zM1202 2784h10v10h-10zM1203 2783h10v10h-10zM1205 2783h10v10h-10zM1206 2783h10v10h-10zM1207 2783h10v10h-10zM1208 2782h10v10h-10zM1209 2782h10v10h-10zM1210 2782h10v10h-10zM1211 2782h10v10h-10zM1212 2781h10v10h-10zM1213 2781h10v10h-10zM1214 2781h10v10h-10zM1216 2781h10v10h-10zM1217 2780h10v10h-10zM1218 2780h10v10h-10zM1219 2780h10v10h-10zM1220 2779h10v10h-10zM1221 2779h10v10h-10zM1222 2779h10v10h-10zM1223 2778h10v10h-10zM1224 2778h10v10h-10zM1225 2778h10v10h-10zM1227 2777h10v10h-10zM1228 2777h10v10h-10zM1229 2777h10v10h-10zM1230 2776h10v10h-10zM1231 2776h10v10h-10zM1232 2775h10v10h-10zM1233 2775h10v10h-10zM1234 2775h10v10h-10zM1235 2774h10v10h-10zM1236 2774h10v10h-10zM1238 2774h10v10h-10zM1239 2773h10v10h-10zM1240 2773h10v10h-10zM1241 2772h10v10h-10zM1242 2772h10v10h-10zM1243 2771h10v10h-10zM1244 2771h10v10h-10zM1245 2770h10v10h-10zM1246 2770h10v10h-10zM1247 2769h10v10h-10zM1249 2769h10v10h-10zM1250 2769h10v10h-10zM1251 2768h10v10h-10zM1252 2768h10v10h-10zM1253 2767h10v10h-10zM1254 2767h10v10h-10zM1255 2766h10v10h-10zM1256 2765h10v10h-10zM1257 2765h10v10h-10zM1258 2764h10v10h-10zM1260 2764h10v10h-10zM1261 2763h10v10h-10zM1262 2763h10v10h-10zM1263 2762h10v10h-10zM1264 2762h10v10h-10zM1265 2761h10v10h-10zM1266 2761h10v10h-10zM1267 2760h10v10h-10zM1268 2759h10v10h-10zM1269 2759h10v10h-10zM1271 2758h10v10h-10zM1272 2758h10v10h-10zM1273 2757h10v10h-10zM1274 2756h10v10h-10zM1275 2756h10v10h-10zM1276 2755h10v10h-10zM1277 2754h10v10h-10zM1278 2754h10v10h-10zM1279 2753h10v10h-10zM1280 2752h10v10h-10zM1282 2751h10v10h-10zM1283 2751h10v10h-10zM1284 2750h10v10h-10zM1285 2749h10v10h-10zM1286 2748h10v10h-10zM1287 2747h10v10h-10zM1288 2746h10v10h-10zM1289 2746h10v10h-10zM1290 2745h10v10h-10zM1291 2744h10v10h-10zM1293 2743h10v10h-10zM1294 2742h10v10h-10zM1295 2741h10v10h-10zM1296 2740h10v10h-10zM1297 2739h10v10h-10zM1298 2738h10v10h-10zM1299 2737h10v10h-10zM1300 2736h10v10h-10zM1301 2735h10v10h-10zM1302 2734h10v10h-10zM1304 2733h10v10h-10zM1305 2732h10v10h-10zM1306 2731h10v10h-10zM1307 2730h10v10h-10zM1308 2729h10v10h-10zM1309 2728h10v10h-10zM1310 2728h10v10h-10zM1311 2727h10v10h-10zM1312 2726h10v10h-10zM1313 2725h10v10h-10zM1315 2724h10v10h-10zM1316 2723h10v10h-10zM1317 2722h10v10h-10zM1318 2721h10v10h-10zM1319 2720h10v10h-10zM1320 2719h10v10h-10zM1321 2719h10v10h-10zM1322 2718h10v10h-10zM1323 2717h10v10h-10zM1324 2716h10v10h-10zM1326 2715h10v10h-10zM1327 2714h10v10h-10zM1328 2713h10v10h-10zM1329 2712h10v10h-10zM1330 2712h10v10h-10zM1331 2711h10v10h-10zM1332 2710h10v10h-10zM1333 2709h10v10h-10zM1334 2708h10v10h-10zM1335 2706h10v10h-10zM1337 2705h10v10h-10zM1338 2704h10v10h-10zM1339 2702h10v10h-10zM1340 2701h10v10h-10zM1341 2699h10v10h-10zM1342 2697h10v10h-10zM1343 2696h10v10h-10zM1344 2694h10v10h-10zM1345 2693h10v10h-10zM1346 2691h10v10h-10zM1348 2689h10v10h-10zM1349 2688h10v10h-10zM1350 2686h10v10h-10zM1351 2685h10v10h-10zM1352 2683h10v10h-10zM1353 2681h10v10h-10zM1354 2679h10v10h-10zM1355 2678h10v10h-10zM1356 2676h10v10h-10zM1357 2674h10v10h-10zM1359 2672h10v10h-10zM1360 2670h10v10h-10zM1361 2668h10v10h-10zM1362 2666h10v10h-10zM1363 2663h10v10h-10zM1364 2661h10v10h-10zM1365 2659h10v10h-10zM1366 2657h10v10h-10zM1367 2655h10v10h-10zM1368 2652h10v10h-10zM1370 2650h10v10h-10zM1371 2647h10v10h-10zM1372 2645h10v10h-10zM1373 2642h10v10h-10zM1374 2640h10v10h-10zM1375 2637h10v10h-10zM1376 2634h10v10h-10zM1377 2632h10v10h-10zM1378 2629h10v10h-10zM1379 2626h10v10h-10zM1381 2623h10v10h-10zM1382 2621h10v10h-10zM1383 2618h10v10h-10zM1384 2615h10v10h-10zM1385 2612h10v10h-10zM1386 2609h10v10h-10zM1387 2606h10v10h-10zM1388 2603h10v10h-10zM1389 2599h10v10h-10zM1390 2596h10v10h-10zM1392 2592h10v10h-10zM1393 2588h10v10h-10zM1394 2584h10v10h-10zM1395 2580h10v10h-10zM1396 2576h10v10h-10zM1397 2572h10v10h-10zM1398 2569h10v10h-10zM1399 2565h10v10h-10zM1400 2562h10v10h-10zM1401 2559h10v10h-10zM1403 2556h10v10h-10zM1404 2553h10v10h-10zM1405 2549h10v10h-10zM1406 2546h10v10h-10zM1407 2542h10v10h-10zM1408 2538h10v10h-10zM1409 2533h10v10h-10zM1410 2528h10v10h-10zM1411 2524h10v10h-10zM1412 2518h10v10h-10zM1414 2513h10v10h-10zM1415 2508h10v10h-10zM1416 2503h10v10h-10zM1417 2497h10v10h-10zM1418 2491h10v10h-10zM1419 2485h10v10h-10zM1420 2478h10v10h-10zM1421 2471h10v10h-10zM1422 2464h10v10h-10zM1423 2456h10v10h-10zM1425 2448h10v10h-10zM1426 2440h10v10h-10zM1427 2432h10v10h-10zM1428 2425h10v10h-10zM1429 2418h10v10h-10zM1430 2412h10v10h-10zM1431 2405h10v10h-10zM1432 2397h10v10h-10zM1433 2389h10v10h-10zM1434 2380h10v10h-10zM1436 2372h10v10h-10zM1437 2363h10v10h-10zM1438 2355h10v10h-10zM1439 2347h10v10h-10zM1440 2341h10v10h-10zM1441 2335h10v10h-10zM1442 2329h10v10h-10zM1443 2323h10v10h-10zM1444 2316h10v10h-10zM1445 2309h10v10h-10zM1447 2302h10v10h-10zM1448 2295h10v10h-10zM1449 2289h10v10h-10zM1450 2283h10v10h-10zM1451 2274h10v10h-10zM1452 2266h10v10h-10zM1493 2622h10v10h-10zM1494 2631h10v10h-10zM1495 2639h10v10h-10zM1496 2646h10v10h-10zM1497 2652h10v10h-10zM1498 2658h10v10h-10zM1499 2662h10v10h-10zM1500 2666h10v10h-10zM1502 2670h10v10h-10zM1503 2672h10v10h-10zM1504 2675h10v10h-10zM1505 2677h10v10h-10zM1506 2679h10v10h-10zM1507 2681h10v10h-10zM1508 2682h10v10h-10zM1509 2683h10v10h-10zM1510 2684h10v10h-10zM1511 2686h10v10h-10zM1513 2686h10v10h-10zM1514 2687h10v10h-10zM1515 2688h10v10h-10zM1516 2689h10v10h-10zM1517 2690h10v10h-10zM1518 2690h10v10h-10zM1519 2691h10v10h-10zM1520 2692h10v10h-10zM1521 2692h10v10h-10zM1522 2693h10v10h-10zM1524 2694h10v10h-10zM1525 2694h10v10h-10zM1526 2695h10v10h-10zM1527 2695h10v10h-10zM1528 2696h10v10h-10zM1529 2696h10v10h-10zM1530 2697h10v10h-10zM1531 2698h10v10h-10zM1532 2698h10v10h-10zM1533 2699h10v10h-10zM1535 2699h10v10h-10zM1536 2700h10v10h-10zM1537 2700h10v10h-10zM1538 2701h10v10h-10zM1539 2702h10v10h-10zM1540 2702h10v10h-10zM1541 2703h10v10h-10zM1542 2703h10v10h-10zM1543 2704h10v10h-10zM1544 2704h10v10h-10zM1546 2705h10v10h-10zM1547 2705h10v10h-10zM1548 2706h10v10h-10zM1549 2706h10v10h-10zM1550 2707h10v10h-10zM1551 2707h10v10h-10zM1552 2707h10v10h-10zM1553 2708h10v10h-10zM1554 2708h10v10h-10zM1555 2709h10v10h-10zM1557 2709h10v10h-10zM1558 2710h10v10h-10zM1559 2710h10v10h-10zM1560 2710h10v10h-10zM1561 2711h10v10h-10zM1562 2711h10v10h-10zM1563 2711h10v10h-10zM1564 2712h10v10h-10zM1565 2712h10v10h-10zM1566 2712h10v10h-10zM1568 2713h10v10h-10zM1569 2713h10v10h-10zM1570 2713h10v10h-10zM1571 2713h10v10h-10zM1572 2714h10v10h-10zM1573 2714h10v10h-10zM1574 2714h10v10h-10zM1575 2715h10v10h-10zM1576 2715h10v10h-10zM1577 2715h10v10h-10zM1579 2715h10v10h-10zM1580 2716h10v10h-10zM1581 2716h10v10h-10zM1582 2716h10v10h-10zM1583 2717h10v10h-10zM1584 2717h10v10h-10zM1585 2717h10v10h-10zM1586 2718h10v10h-10zM1587 2718h10v10h-10zM1588 2718h10v10h-10zM1590 2719h10v10h-10zM1591 2719h10v10h-10zM1592 2719h10v10h-10zM1593 2720h10v10h-10zM1594 2720h10v10h-10zM1595 2720h10v10h-10zM1596 2721h10v10h-10zM1597 2721h10v10h-10zM1598 2721h10v10h-10zM1599 2722h10v10h-10zM1601 2722h10v10h-10zM1602 2722h10v10h-10zM1603 2722h10v10h-10zM1604 2723h10v10h-10zM1605 2723h10v10h-10zM1606 2723h10v10h-10zM1607 2724h10v10h-10zM1608 2724h10v10h-10zM1609 2724h10v10h-10zM1610 2724h10v10h-10zM1612 2724h10v10h-10zM1613 2725h10v10h-10zM1614 2725h10v10h-10zM1615 2725h10v10h-10zM1616 2725h10v10h-10zM1617 2725h10v10h-10zM1618 2725h10v10h-10zM1619 2725h10v10h-10zM1620 2726h10v10h-10zM1621 2726h10v10h-10zM1623 2726h10v10h-10zM1624 2726h10v10h-10zM1625 2726h10v10h-10zM1626 2726h10v10h-10zM1627 2726h10v10h-10zM1628 2727h10v10h-10zM1629 2727h10v10h-10zM1630 2727h10v10h-10zM1631 2727h10v10h-10zM1632 2727h10v10h-10zM1634 2728h10v10h-10zM1635 2728h10v10h-10zM1636 2728h10v10h-10zM1637 2729h10v10h-10zM1638 2729h10v10h-10zM1639 2729h10v10h-10zM1640 2730h10v10h-10zM1641 2730h10v10h-10zM1642 2730h10v10h-10zM1643 2731h10v10h-10zM1645 2731h10v10h-10zM1646 2731h10v10h-10zM1647 2732h10v10h-10zM1648 2732h10v10h-10zM1649 2732h10v10h-10zM1650 2733h10v10h-10zM1651 2733h10v10h-10zM1652 2733h10v10h-10zM1653 2734h10v10h-10zM1654 2734h10v10h-10zM1656 2734h10v10h-10zM1657 2735h10v10h-10zM1658 2735h10v10h-10zM1659 2735h10v10h-10zM1660 2736h10v10h-10zM1661 2736h10v10h-10zM1662 2736h10v10h-10zM1663 2737h10v10h-10zM1664 2737h10v10h-10zM1665 2737h10v10h-10zM1667 2737h10v10h-10zM1668 2738h10v10h-10zM1669 2738h10v10h-10zM1670 2738h10v10h-10zM1671 2738h10v10h-10zM1672 2739h10v10h-10zM1673 2739h10v10h-10zM1674 2739h10v10h-10zM1675 2740h10v10h-10zM1676 2740h10v10h-10zM1678 2740h10v10h-10zM1679 2741h10v10h-10zM1680 2741h10v10h-10zM1681 2741h10v10h-10zM1682 2741h10v10h-10zM1683 2742h10v10h-10zM1684 2742h10v10h-10zM1685 2742h10v10h-10zM1686 2743h10v10h-10zM1687 2743h10v10h-10zM1689 2744h10v10h-10zM1690 2744h10v10h-10zM1691 2744h10v10h-10zM1692 2745h10v10h-10zM1693 2745h10v10h-10zM1694 2745h10v10h-10zM1695 2746h10v10h-10zM1696 2746h10v10h-10zM1697 2746h10v10h-10zM1698 2746h10v10h-10zM1700 2747h10v10h-10zM1701 2747h10v10h-10zM1702 2747h10v10h-10zM1703 2747h10v10h-10zM1704 2747h10v10h-10zM1705 2747h10v10h-10zM1706 2748h10v10h-10zM1707 2748h10v10h-10zM1708 2748h10v10h-10zM1709 2748h10v10h-10zM1711 2748h10v10h-10zM1712 2748h10v10h-10zM1713 2748h10v10h-10zM1714 2748h10v10h-10zM1715 2748h10v10h-10zM1716 2748h10v10h-10zM1717 2748h10v10h-10zM1718 2749h10v10h-10zM1719 2749h10v10h-10zM1720 2749h10v10h-10zM1722 2749h10v10h-10zM1723 2749h10v10h-10zM1724 2749h10v10h-10zM1725 2749h10v10h-10zM1726 2749h10v10h-10zM1727 2750h10v10h-10zM1728 2750h10v10h-10zM1729 2750h10v10h-10zM1730 2750h10v10h-10zM1731 2750h10v10h-10zM1733 2750h10v10h-10zM1734 2751h10v10h-10zM1735 2751h10v10h-10zM1736 2751h10v10h-10zM1737 2751h10v10h-10zM1738 2751h10v10h-10zM1739 2751h10v10h-10zM1740 2751h10v10h-10zM1741 2752h10v10h-10zM1742 2752h10v10h-10zM1744 2752h10v10h-10zM1745 2752h10v10h-10zM1746 2752h10v10h-10zM1747 2752h10v10h-10zM1748 2752h10v10h-10zM1749 2752h10v10h-10zM1750 2752h10v10h-10zM1751 2753h10v10h-10zM1752 2753h10v10h-10zM1753 2753h10v10h-10zM1755 2753h10v10h-10zM1756 2753h10v10h-10zM1757 2753h10v10h-10zM1758 2753h10v10h-10zM1759 2753h10v10h-10zM1760 2753h10v10h-10zM1761 2753h10v10h-10zM1762 2753h10v10h-10zM1763 2753h10v10h-10zM1764 2753h10v10h-10zM1766 2753h10v10h-10zM1767 2753h10v10h-10zM1768 2753h10v10h-10zM1769 2753h10v10h-10zM1770 2753h10v10h-10zM1771 2753h10v10h-10zM1772 2753h10v10h-10zM1773 2753h10v10h-10zM1774 2753h10v10h-10zM1775 2753h10v10h-10zM1777 2753h10v10h-10zM1778 2753h10v10h-10zM1779 2752h10v10h-10zM1780 2752h10v10h-10zM1781 2752h10v10h-10zM1782 2752h10v10h-10zM1783 2752h10v10h-10zM1784 2753h10v10h-10zM1785 2753h10v10h-10zM1786 2753h10v10h-10zM1788 2753h10v10h-10zM1789 2753h10v10h-10zM1790 2754h10v10h-10zM1791 2754h10v10h-10zM1792 2754h10v10h-10zM1793 2755h10v10h-10zM1794 2755h10v10h-10zM1795 2755h10v10h-10zM1796 2756h10v10h-10zM1797 2756h10v10h-10zM1799 2757h10v10h-10zM1800 2757h10v10h-10zM1801 2757h10v10h-10zM1802 2758h10v10h-10zM1803 2758h10v10h-10zM1804 2758h10v10h-10zM1805 2758h10v10h-10zM1806 2758h10v10h-10zM1807 2758h10v10h-10zM1808 2759h10v10h-10zM1810 2759h10v10h-10zM1811 2759h10v10h-10zM1812 2759h10v10h-10zM1813 2759h10v10h-10zM1814 2759h10v10h-10zM1815 2759h10v10h-10zM1816 2759h10v10h-10zM1817 2759h10v10h-10zM1818 2759h10v10h-10zM1819 2759h10v10h-10zM1821 2760h10v10h-10zM1822 2760h10v10h-10zM1823 2760h10v10h-10zM1824 2760h10v10h-10zM1825 2760h10v10h-10zM1826 2760h10v10h-10zM1827 2760h10v10h-10zM1828 2760h10v10h-10zM1829 2761h10v10h-10zM1830 2761h10v10h-10zM1832 2761h10v10h-10zM1833 2761h10v10h-10zM1834 2761h10v10h-10zM1835 2762h10v10h-10zM1836 2762h10v10h-10zM1837 2762h10v10h-10zM1838 2762h10v10h-10zM1839 2762h10v10h-10zM1840 2763h10v10h-10zM1841 2763h10v10h-10zM1843 2763h10v10h-10zM1844 2763h10v10h-10zM1845 2763h10v10h-10zM1846 2763h10v10h-10zM1847 2764h10v10h-10zM1848 2764h10v10h-10zM1849 2764h10v10h-10zM1850 2764h10v10h-10zM1851 2764h10v10h-10zM1852 2764h10v10h-10zM1854 2765h10v10h-10zM1855 2765h10v10h-10zM1856 2765h10v10h-10zM1857 2765h10v10h-10zM1858 2765h10v10h-10zM1859 2765h10v10h-10zM1860 2765h10v10h-10zM1861 2766h10v10h-10zM1862 2766h10v10h-10zM1863 2766h10v10h-10zM1865 2766h10v10h-10zM1866 2766h10v10h-10zM1867 2766h10v10h-10zM1868 2766h10v10h-10zM1869 2767h10v10h-10zM1870 2767h10v10h-10zM1871 2767h10v10h-10zM1872 2767h10v10h-10zM1873 2767h10v10h-10zM1874 2767h10v10h-10zM1876 2767h10v10h-10zM1877 2768h10v10h-10zM1878 2768h10v10h-10zM1879 2768h10v10h-10zM1880 2768h10v10h-10zM1881 2768h10v10h-10zM1882 2768h10v10h-10zM1883 2768h10v10h-10zM1884 2769h10v10h-10zM1885 2769h10v10h-10zM1887 2769h10v10h-10zM1888 2769h10v10h-10zM1889 2769h10v10h-10zM1890 2769h10v10h-10zM1891 2769h10v10h-10zM1892 2770h10v10h-10zM1893 2770h10v10h-10zM1894 2770h10v10h-10zM1895 2770h10v10h-10zM1896 2770h10v10h-10zM1898 2770h10v10h-10zM1899 2770h10v10h-10zM1900 2771h10v10h-10zM1901 2771h10v10h-10zM1902 2771h10v10h-10zM1903 2771h10v10h-10zM1904 2771h10v10h-10zM1905 2771h10v10h-10zM1906 2772h10v10h-10zM1907 2772h10v10h-10zM1909 2772h10v10h-10zM1910 2772h10v10h-10zM1911 2772h10v10h-10zM1912 2772h10v10h-10zM1913 2772h10v10h-10zM1914 2773h10v10h-10zM1915 2773h10v10h-10zM1916 2773h10v10h-10zM1917 2773h10v10h-10zM1918 2773h10v10h-10zM1920 2773h10v10h-10zM1921 2773h10v10h-10zM1922 2774h10v10h-10zM1923 2774h10v10h-10zM1924 2774h10v10h-10zM1925 2774h10v10h-10zM1926 2774h10v10h-10zM1927 2774h10v10h-10zM1928 2774h10v10h-10zM1929 2775h10v10h-10zM1931 2775h10v10h-10zM1932 2775h10v10h-10zM1933 2775h10v10h-10zM1934 2775h10v10h-10zM1935 2776h10v10h-10zM1936 2776h10v10h-10zM1937 2776h10v10h-10zM1938 2776h10v10h-10zM1939 2777h10v10h-10zM1940 2777h10v10h-10zM1942 2777h10v10h-10zM1943 2778h10v10h-10zM1944 2778h10v10h-10zM1945 2779h10v10h-10zM1946 2779h10v10h-10zM1947 2780h10v10h-10zM1948 2780h10v10h-10zM1949 2781h10v10h-10zM1950 2781h10v10h-10zM1951 2782h10v10h-10zM1953 2782h10v10h-10zM1954 2782h10v10h-10zM1955 2783h10v10h-10zM1956 2783h10v10h-10zM1957 2784h10v10h-10zM1958 2784h10v10h-10zM1959 2784h10v10h-10zM1960 2784h10v10h-10zM1961 2784h10v10h-10zM1962 2785h10v10h-10zM1964 2785h10v10h-10zM1965 2785h10v10h-10zM1966 2785h10v10h-10zM1967 2785h10v10h-10zM1968 2785h10v10h-10zM1969 2785h10v10h-10zM1970 2785h10v10h-10zM1971 2785h10v10h-10zM1972 2785h10v10h-10zM1973 2785h10v10h-10zM1975 2785h10v10h-10zM1976 2785h10v10h-10zM1977 2785h10v10h-10zM1978 2785h10v10h-10zM1979 2785h10v10h-10zM1980 2785h10v10h-10zM1981 2785h10v10h-10zM1982 2786h10v10h-10zM1983 2786h10v10h-10zM1984 2786h10v10h-10zM1986 2786h10v10h-10zM1987 2787h10v10h-10zM1988 2787h10v10h-10zM1989 2787h10v10h-10zM1990 2787h10v10h-10zM1991 2788h10v10h-10zM1992 2788h10v10h-10zM1993 2788h10v10h-10zM1994 2789h10v10h-10zM1995 2789h10v10h-10zM1997 2789h10v10h-10zM1998 2790h10v10h-10zM1999 2790h10v10h-10zM2000 2790h10v10h-10zM2001 2790h10v10h-10zM2002 2790h10v10h-10zM2003 2791h10v10h-10zM2004 2791h10v10h-10zM2005 2791h10v10h-10zM2006 2791h10v10h-10zM2008 2791h10v10h-10zM2009 2791h10v10h-10zM2010 2791h10v10h-10zM2011 2791h10v10h-10zM2012 2791h10v10h-10zM2013 2791h10v10h-10zM2014 2791h10v10h-10zM2015 2791h10v10h-10zM2016 2791h10v10h-10zM2017 2791h10v10h-10zM2019 2791h10v10h-10zM2020 2791h10v10h-10zM2021 2792h10v10h-10zM2022 2792h10v10h-10zM2023 2792h10v10h-10zM2024 2792h10v10h-10zM2025 2792h10v10h-10zM2026 2792h10v10h-10zM2027 2793h10v10h-10zM2028 2793h10v10h-10zM2030 2793h10v10h-10zM2031 2794h10v10h-10zM2032 2794h10v10h-10zM2033 2794h10v10h-10zM2034 2795h10v10h-10zM2035 2795h10v10h-10zM2036 2796h10v10h-10zM2037 2796h10v10h-10zM2038 2796h10v10h-10zM2039 2797h10v10h-10zM2041 2797h10v10h-10zM2042 2798h10v10h-10zM2043 2798h10v10h-10zM2044 2798h10v10h-10zM2045 2799h10v10h-10zM2046 2799h10v10h-10zM2047 2799h10v10h-10zM2048 2800h10v10h-10zM2049 2800h10v10h-10zM2050 2800h10v10h-10zM2052 2800h10v10h-10zM2053 2800h10v10h-10zM2054 2801h10v10h-10zM2055 2801h10v10h-10zM2056 2801h10v10h-10zM2057 2801h10v10h-10zM2058 2801h10v10h-10zM2059 2801h10v10h-10zM2060 2801h10v10h-10zM2061 2801h10v10h-10zM2063 2801h10v10h-10zM2064 2802h10v10h-10zM2065 2802h10v10h-10zM2066 2802h10v10h-10zM2067 2802h10v10h-10zM2068 2802h10v10h-10zM2069 2802h10v10h-10zM2070 2803h10v10h-10zM2071 2803h10v10h-10zM2072 2803h10v10h-10zM2074 2803h10v10h-10zM2075 2804h10v10h-10zM2076 2804h10v10h-10zM2077 2804h10v10h-10zM2078 2804h10v10h-10zM2079 2805h10v10h-10zM2080 2805h10v10h-10zM2081 2805h10v10h-10zM2082 2806h10v10h-10zM2083 2806h10v10h-10zM2085 2806h10v10h-10zM2086 2807h10v10h-10zM2087 2807h10v10h-10zM2088 2807h10v10h-10zM2089 2808h10v10h-10zM2090 2808h10v10h-10zM2091 2808h10v10h-10zM2092 2809h10v10h-10zM2093 2809h10v10h-10zM2094 2809h10v10h-10zM2096 2810h10v10h-10zM2097 2810h10v10h-10zM2098 2810h10v10h-10zM2099 2811h10v10h-10zM2100 2811h10v10h-10zM2101 2811h10v10h-10zM2102 2812h10v10h-10zM2103 2812h10v10h-10zM2104 2812h10v10h-10zM2105 2813h10v10h-10zM2107 2813h10v10h-10zM2108 2813h10v10h-10zM2109 2813h10v10h-10zM2110 2813h10v10h-10zM2111 2813h10v10h-10zM2112 2813h10v10h-10zM2113 2813h10v10h-10zM2114 2813h10v10h-10zM2115 2813h10v10h-10zM2116 2813h10v10h-10zM2117 2813h10v10h-10zM1453 2262h10v10h-10zM1454 2247h10v10h-10zM1455 2224h10v10h-10zM1457 2193h10v10h-10zM1458 2162h10v10h-10zM1460 2127h10v10h-10zM1461 2090h10v10h-10zM1462 2056h10v10h-10zM1464 2025h10v10h-10zM1465 2001h10v10h-10zM1467 1985h10v10h-10zM1469 1977h10v10h-10zM1471 1989h10v10h-10zM1472 2005h10v10h-10zM1473 2027h10v10h-10zM1475 2055h10v10h-10zM1476 2090h10v10h-10zM1477 2123h10v10h-10zM1478 2159h10v10h-10zM1479 2194h10v10h-10zM1480 2231h10v10h-10zM1481 2270h10v10h-10zM1482 2310h10v10h-10zM1483 2348h10v10h-10zM1484 2388h10v10h-10zM1485 2425h10v10h-10zM1485 2460h10v10h-10zM1486 2491h10v10h-10zM1487 2519h10v10h-10zM1488 2542h10v10h-10zM1489 2566h10v10h-10zM1490 2584h10v10h-10zM1491 2599h10v10h-10zM1492 2612h10v10h-10z" fill="#000" shape-rendering="crispEdges"/>
<path d="M567.1 2765.4L569.6 2765.4L572 2765.4L574.4 2765.4L576.8 2765.5L579.2 2765.5L581.6 2765.5L584.1 2765.5L586.6 2765.5L589.2 2765.6L591.9 2765.6L595.3 2765.7L598.8 2765.7L602.4 2765.8L606.1 2765.9L609.8 2766L613.6 2766.1L617.4 2766.2L621.2 2766.3L625 2766.5L628.7 2766.6L632.4 2766.8L636.1 2767L639.8 2767.2L643.5 2767.4L647.2 2767.6L650.8 2767.8L654.5 2768.1L658.2 2768.3L661.9 2768.5L665.6 2768.7L669.3 2768.9L673 2769.1L676.6 2769.2L680.3 2769.4L684 2769.6L687.7 2769.7L691.4 2769.9L695 2770.1L698.7 2770.3L702.4 2770.5L706.1 2770.7L709.8 2771L713.5 2771.3L717.2 2771.6L720.9 2771.9L724.6 2772.2L728.3 2772.5L732 2772.7L735.6 2773L739.3 2773.3L742.9 2773.6L746.5 2773.8L750.1 2774.1L753.8 2774.3L757.4 2774.5L761 2774.8L764.5 2775L768 2775.2L771.3 2775.5L774.6 2775.7L777.2 2775.9L779.8 2776.1L782.3 2776.2L784.7 2776.4L787.1 2776.6L789.5 2776.7L791.9 2776.9L794.3 2777.1L796.7 2777.3L799.1 2777.5L801.6 2777.7L804 2777.9L806.5 2778.1L808.9 2778.3L811.4 2778.5L813.9 2778.8L816.3 2779L818.8 2779.3L821.2 2779.6L823.7 2780L826.2 2780.4L828.6 2780.9L831.1 2781.4L833.6 2781.9L836 2782.4L838.5 2783L840.9 2783.5L843.4 2784.1L845.8 2784.7L848.3 2785.3L850.8 2785.9L853.4 2786.5L856 2787L858.6 2787.6L861.2 2788.2L863.7 2788.9L866.2 2789.5L868.6 2790.2L870.8 2790.9L872.9 2791.7L874.3 2792.3L875.7 2792.8L877 2793.4L878.2 2794L879.4 2794.6L880.6 2795.2L881.7 2795.9L882.9 2796.7L884 2797.5L885.1 2798.4L886.4 2799.6L887.8 2801L889.1 2802.5L890.3 2804.2L891.6 2805.8L892.8 2807.5L894 2809.2L895.1 2810.9L896.3 2812.6L897.4 2814.1L898.3 2815.4L899.2 2816.6L900.1 2817.9L901 2819.1L901.8 2820.3L902.6 2821.5L903.4 2822.8L904.3 2824L905.1 2825.2L906 2826.4L906.9 2827.6L907.8 2828.9L908.7 2830.1L909.6 2831.3L910.5 2832.6L911.4 2833.8L912.3 2835L913.3 2836.3L914.2 2837.5L915.2 2838.7L916.2 2839.9L917.2 2841.2L918.2 2842.4L919.2 2843.7L920.2 2844.9L921.3 2846.2L922.3 2847.4L923.4 2848.6L924.5 2849.8L925.7 2851L927 2852.3L928.3 2853.6L929.7 2855L931.1 2856.3L932.5 2857.6L934 2858.9L935.4 2860.1L936.9 2861.3L938.3 2862.4L939.8 2863.3L941 2864L942.3 2864.6L943.5 2865.2L944.8 2865.7L946 2866.2L947.3 2866.6L948.5 2867.1L949.8 2867.5L951 2867.9L952.3 2868.4L953.5 2868.9L954.7 2869.4L955.8 2869.8L957 2870.3L958.2 2870.8L959.4 2871.2L960.6 2871.7L961.8 2872.1L963.2 2872.6L964.6 2873L966.7 2873.6L968.9 2874.1L971.3 2874.6L973.8 2875.1L976.3 2875.6L978.9 2876.1L981.5 2876.6L984.1 2877L986.6 2877.5L989.1 2877.9L991.6 2878.3L994 2878.7L996.5 2879.1L998.9 2879.5L1001.4 2879.8L1003.9 2880.2L1006.3 2880.5L1008.8 2880.9L1011.2 2881.2L1013.7 2881.6L1016.2 2882L1018.6 2882.3L1021.1 2882.7L1023.5 2883.1L1026 2883.5L1028.5 2883.9L1030.9 2884.2L1033.4 2884.6L1035.8 2885L1038.3 2885.3L1040.8 2885.6L1043.2 2885.9L1045.7 2886.3L1048.1 2886.6L1050.6 2886.9L1053.1 2887.2L1055.5 2887.5L1058 2887.8L1060.4 2888.1L1062.9 2888.4L1065.4 2888.7L1067.8 2889.1L1070.3 2889.5L1072.7 2889.9L1075.1 2890.2L1077.6 2890.6L1080 2891L1082.5 2891.3L1084.9 2891.7L1087.4 2892L1089.9 2892.3L1092.3 2892.6L1094.7 2892.8L1097.2 2893.1L1099.6 2893.3L1102.1 2893.5L1104.5 2893.8L1107 2894L1109.5 2894.2L1112 2894.5L1114.6 2894.8L1117.2 2895L1119.8 2895.3L1122.5 2895.6L1125.1 2895.9L1127.8 2896.1L1130.5 2896.4L1133.2 2896.7L1136.1 2897L1139 2897.3L1142.7 2897.7L1146.4 2898.1L1150.3 2898.5L1154.3 2898.9L1158.3 2899.3L1162.4 2899.7L1166.5 2900.1L1170.7 2900.5L1174.9 2900.9L1179.1 2901.3L1183.8 2901.7L1188.6 2902.2L1193.5 2902.6L1198.4 2903.1L1203.4 2903.5L1208.4 2903.9L1213.4 2904.4L1218.4 2904.8L1223.4 2905.2L1228.3 2905.6L1233.2 2906L1238.2 2906.4L1243.1 2906.7L1248.1 2907.1L1253.1 2907.4L1258 2907.7L1262.9 2908.1L1267.8 2908.5L1272.6 2908.9L1277.4 2909.3L1281.8 2909.7L1286.3 2910.2L1290.8 2910.7L1295.2 2911.2L1299.6 2911.7L1303.9 2912.2L1308.2 2912.7L1312.3 2913.2L1316.2 2913.7L1320 2914.1L1322.7 2914.4L1325.4 2914.7L1327.9 2914.9L1330.3 2915.1L1332.7 2915.4L1335.1 2915.6L1337.4 2915.9L1339.8 2916.1L1342.2 2916.5L1344.6 2916.8L1347.1 2917.2L1349.5 2917.6L1352 2918L1354.4 2918.5L1356.9 2918.9L1359.3 2919.4L1361.8 2919.9L1364.2 2920.4L1366.7 2921L1369.1 2921.5L1371.6 2922.1L1374 2922.6L1376.5 2923.2L1379 2923.8L1381.4 2924.4L1383.9 2925L1386.4 2925.7L1388.8 2926.4L1391.3 2927.1L1393.7 2927.9L1396.2 2928.7L1398.7 2929.6L1401.3 2930.4L1403.8 2931.4L1406.3 2932.3L1408.8 2933.3L1411.3 2934.3L1413.7 2935.3L1416 2936.4L1418.3 2937.5L1420.3 2938.5L1422.3 2939.6L1424.2 2940.7L1426.1 2941.8L1428 2943L1429.8 2944.2L1431.6 2945.4L1433.4 2946.6L1435.1 2947.8L1436.7 2949.1L1438.1 2950.3L1439.5 2951.4L1440.9 2952.7L1442.2 2953.9L1443.4 2955.1L1444.7 2956.4L1445.9 2957.6L1447.1 2958.9L1448.4 2960.1L1449.6 2961.4L1450.8 2962.6L1452 2963.8L1453.2 2965.1L1454.4 2966.3L1455.6 2967.5L1456.7 2968.7L1457.9 2970L1459 2971.2L1460.2 2972.5L1461.3 2973.7L1462.4 2974.9L1463.4 2976.2L1464.4 2977.4L1465.4 2978.7L1466.4 2980L1467.4 2981.2L1468.4 2982.5L1469.4 2983.7L1470.5 2984.9L1471.7 2986L1473 2987.2L1474.2 2988.4L1475.6 2989.6L1476.9 2990.8L1478.3 2991.9L1479.7 2993L1481.2 2994L1482.7 2994.9L1484.2 2995.6L1485.8 2996.2L1487.5 2996.6L1489.3 2996.8L1491.1 2996.9L1493 2996.8L1494.9 2996.7L1496.9 2996.5L1498.8 2996.2L1500.7 2996L1502.5 2995.9L1504.3 2995.8L1505.8 2995.8L1507.2 2995.8L1508.6 2995.8L1509.9 2995.7L1511.3 2995.7L1512.6 2995.7L1514.1 2995.7L1515.6 2995.8L1517.2 2995.8L1519 2995.8L1522.5 2995.9L1526.3 2996L1530.6 2996.1L1535.1 2996.2L1539.7 2996.4L1544.5 2996.5L1549.3 2996.7L1554 2996.8L1558.6 2997L1562.9 2997.1L1566.7 2997.2L1570.4 2997.3L1574.1 2997.4L1577.8 2997.5L1581.4 2997.6L1585 2997.7L1588.7 2997.8L1592.3 2997.8L1596 2997.9L1599.7 2998L1603.5 2998.1L1607.1 2998.2L1610.7 2998.2L1614.3 2998.3L1617.9 2998.4L1621.7 2998.4L1625.6 2998.5L1629.8 2998.6L1634.2 2998.6L1639 2998.7L1648.3 2998.8L1658.6 2999L1669.8 2999.1L1681.7 2999.2L1694.1 2999.3L1706.9 2999.5L1719.8 2999.6L1732.7 2999.7L1745.5 2999.9L1757.8 3000L1770.4 3000.2L1783 3000.3L1795.8 3000.5L1808.5 3000.7L1821.4 3000.8L1834.2 3001L1847 3001.2L1859.9 3001.3L1872.7 3001.4L1885.5 3001.5L1898.3 3001.6L1911.2 3001.6L1924.1 3001.6L1937.1 3001.6L1950 3001.5L1962.9 3001.5L1975.7 3001.5L1988.4 3001.5L2000.9 3001.5L2013.3 3001.5L2024.6 3001.6L2035.8 3001.6L2046.8 3001.7L2057.8 3001.8L2068.7 3001.9L2079.5 3002.1L2090.4 3002.2L2101.2 3002.3L2112.1 3002.4L2123 3002.5" stroke="#ff0000" stroke-width="12" stroke-linecap="round" stroke-linejoin="round" fill="none"/>
<text x="31.9" y="118.3" font-family="'Liberation Serif', 'Times New Roman', serif" font-size="70">(</text>
<text x="55.6" y="119.2" font-family="'Liberation Serif', 'Times New Roman', serif" font-size="107" font-weight="bold">a</text>
<text x="110.1" y="118.3" font-family="'Liberation Serif', 'Times New Roman', serif" font-size="70">)</text>
<text x="51" y="1815.5" font-family="'Liberation Serif', 'Times New Roman', serif" font-size="70">(</text>
<text x="72.9" y="1817.3" font-family="'Liberation Serif', 'Times New Roman', serif" font-size="107" font-weight="bold">b</text>
<text x="134.2" y="1815.5" font-family="'Liberation Serif', 'Times New Roman', serif" font-size="70">)</text>
<text transform="translate(200 934.6) rotate(-90)" font-size="69.5"><tspan font-family="'Liberation Serif', 'Times New Roman', serif">DTA/μV</tspan></text>
<text transform="translate(198.6 2693.6) rotate(-90)" font-size="69.5"><tspan font-family="'Liberation Serif', 'Times New Roman', serif">DTA/μV</tspan></text>
<text transform="translate(2453.7 908.7) rotate(-90)" font-size="67.7"><tspan font-family="'Liberation Serif', 'Times New Roman', serif">TG/mg</tspan></text>
<text transform="translate(2448.9 2673.8) rotate(-90)" font-size="67.2"><tspan font-family="'Liberation Sans', Arial, sans-serif">TG/mg</tspan></text>
<text x="1117.5" y="1680.8" font-size="66"><tspan font-family="'Liberation Serif', 'Times New Roman', serif">Temperature/º</tspan><tspan font-family="'Liberation Sans', Arial, sans-serif">C</tspan></text>
<text x="1114.2" y="3441.4" font-size="66"><tspan font-family="'Liberation Serif', 'Times New Roman', serif">Temperature/°C</tspan></text>
<text x="493.9" y="699.7" font-size="66.3"><tspan font-family="'Liberation Serif', 'Times New Roman', serif">91.2º</tspan><tspan font-family="'Liberation Sans', Arial, sans-serif">C</tspan></text>
<text x="846.3" y="1396.8" font-size="66.3"><tspan font-family="'Liberation Serif', 'Times New Roman', serif">161.6º</tspan><tspan font-family="'Liberation Sans', Arial, sans-serif">C</tspan></text>
<text x="1102.8" y="699.9" font-size="66.3"><tspan font-family="'Liberation Serif', 'Times New Roman', serif">245.8º</tspan><tspan font-family="'Liberation Sans', Arial, sans-serif">C</tspan></text>
<text x="1303.4" y="204.2" font-size="66.3"><tspan font-family="'Liberation Serif', 'Times New Roman', serif">362.9º</tspan><tspan font-family="'Liberation Sans', Arial, sans-serif">C</tspan></text>
<text x="1580.7" y="164.3" font-size="66.3"><tspan font-family="'Liberation Serif', 'Times New Roman', serif">427.3º</tspan><tspan font-family="'Liberation Sans', Arial, sans-serif">C</tspan></text>
<text x="1449" y="1936.8" font-size="66.3"><tspan font-family="'Liberation Serif', 'Times New Roman', serif">384.5°C</tspan></text>
<text x="501.1" y="2891.9" font-size="66.3"><tspan font-family="'Liberation Serif', 'Times New Roman', serif">85.4°C</tspan></text>
<text x="1164.4" y="2881.9" font-size="66.3"><tspan font-family="'Liberation Serif', 'Times New Roman', serif">235.9°C</tspan></text>
<text x="924.4" y="3208" font-size="66.3"><tspan font-family="'Liberation Serif', 'Times New Roman', serif">163.5°C</tspan></text>
</svg></body></html>
